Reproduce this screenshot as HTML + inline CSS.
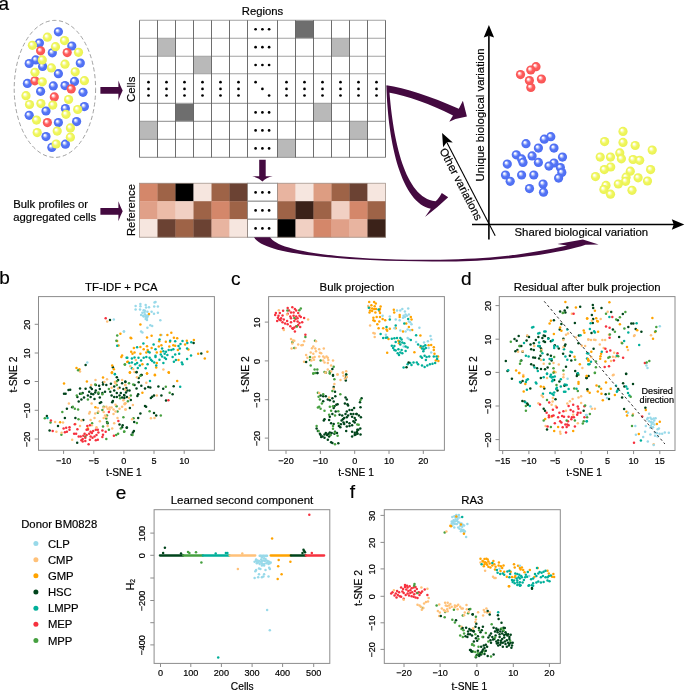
<!DOCTYPE html><html><head><meta charset="utf-8"><style>html,body{margin:0;padding:0;background:#fff;overflow:hidden;}svg{display:block;}</style></head><body><svg width="685" height="690" viewBox="0 0 685 690" style="will-change:transform" font-family='"Liberation Sans", sans-serif' fill="#111"><defs><radialGradient id="gb" cx="0.5" cy="0.5" r="0.5" fx="0.34" fy="0.32"><stop offset="0" stop-color="#ffffff"/><stop offset="0.12" stop-color="#ffffff"/><stop offset="0.55" stop-color="#5676f6"/><stop offset="1" stop-color="#4b6cf2"/></radialGradient><radialGradient id="gy" cx="0.5" cy="0.5" r="0.5" fx="0.34" fy="0.32"><stop offset="0" stop-color="#ffffff"/><stop offset="0.12" stop-color="#ffffff"/><stop offset="0.55" stop-color="#f1f760"/><stop offset="1" stop-color="#e9f152"/></radialGradient><radialGradient id="gr" cx="0.5" cy="0.5" r="0.5" fx="0.34" fy="0.32"><stop offset="0" stop-color="#ffffff"/><stop offset="0.12" stop-color="#ffffff"/><stop offset="0.55" stop-color="#ff5c5c"/><stop offset="1" stop-color="#f65353"/></radialGradient></defs><style>text{fill:#000;stroke:#000;stroke-width:0.18px;}</style><rect width="685" height="690" fill="#fff"/><text x="-1.50" y="9.70" font-size="19" text-anchor="start">a</text><text x="-0.80" y="284.30" font-size="19" text-anchor="start">b</text><text x="230.90" y="284.50" font-size="19" text-anchor="start">c</text><text x="461.00" y="284.50" font-size="19" text-anchor="start">d</text><text x="115.80" y="498.70" font-size="19" text-anchor="start">e</text><text x="349.80" y="498.20" font-size="19" text-anchor="start">f</text><ellipse cx="54.9" cy="88.9" rx="40.7" ry="68.5" fill="none" stroke="#8a8a8a" stroke-width="0.8" stroke-dasharray="4.2,2.6"/><circle cx="58.4" cy="31.8" r="4.6" fill="url(#gb)"/><circle cx="39.4" cy="43.1" r="4.6" fill="url(#gb)"/><circle cx="71.8" cy="46.0" r="4.6" fill="url(#gb)"/><circle cx="52.3" cy="52.8" r="4.6" fill="url(#gb)"/><circle cx="35.8" cy="59.9" r="4.6" fill="url(#gb)"/><circle cx="29.2" cy="63.5" r="4.6" fill="url(#gb)"/><circle cx="42.6" cy="66.4" r="4.6" fill="url(#gb)"/><circle cx="80.3" cy="63.1" r="4.6" fill="url(#gb)"/><circle cx="58.4" cy="73.7" r="4.6" fill="url(#gb)"/><circle cx="27.4" cy="83.4" r="4.6" fill="url(#gb)"/><circle cx="74.5" cy="81.4" r="4.6" fill="url(#gb)"/><circle cx="53.3" cy="85.9" r="4.6" fill="url(#gb)"/><circle cx="65.0" cy="85.6" r="4.6" fill="url(#gb)"/><circle cx="40.6" cy="91.3" r="4.6" fill="url(#gb)"/><circle cx="83.0" cy="92.3" r="4.6" fill="url(#gb)"/><circle cx="65.4" cy="108.5" r="4.6" fill="url(#gb)"/><circle cx="84.4" cy="106.6" r="4.6" fill="url(#gb)"/><circle cx="46.0" cy="111.0" r="4.6" fill="url(#gb)"/><circle cx="29.2" cy="115.3" r="4.6" fill="url(#gb)"/><circle cx="58.4" cy="122.6" r="4.6" fill="url(#gb)"/><circle cx="76.6" cy="121.6" r="4.6" fill="url(#gb)"/><circle cx="46.0" cy="136.6" r="4.6" fill="url(#gb)"/><circle cx="65.4" cy="144.2" r="4.6" fill="url(#gb)"/><circle cx="51.8" cy="147.4" r="4.6" fill="url(#gb)"/><circle cx="40.6" cy="50.8" r="4.6" fill="url(#gr)"/><circle cx="67.2" cy="52.6" r="4.6" fill="url(#gr)"/><circle cx="34.9" cy="80.8" r="4.6" fill="url(#gr)"/><circle cx="71.2" cy="88.9" r="4.6" fill="url(#gr)"/><circle cx="54.3" cy="96.9" r="4.6" fill="url(#gr)"/><circle cx="47.4" cy="122.6" r="4.6" fill="url(#gr)"/><circle cx="47.4" cy="37.2" r="4.6" fill="url(#gy)"/><circle cx="64.5" cy="40.6" r="4.6" fill="url(#gy)"/><circle cx="32.4" cy="45.3" r="4.6" fill="url(#gy)"/><circle cx="55.5" cy="46.7" r="4.6" fill="url(#gy)"/><circle cx="78.5" cy="52.3" r="4.6" fill="url(#gy)"/><circle cx="42.3" cy="59.9" r="4.6" fill="url(#gy)"/><circle cx="65.0" cy="64.2" r="4.6" fill="url(#gy)"/><circle cx="51.4" cy="67.9" r="4.6" fill="url(#gy)"/><circle cx="35.0" cy="72.3" r="4.6" fill="url(#gy)"/><circle cx="75.2" cy="71.8" r="4.6" fill="url(#gy)"/><circle cx="42.3" cy="81.8" r="4.6" fill="url(#gy)"/><circle cx="84.4" cy="80.7" r="4.6" fill="url(#gy)"/><circle cx="26.0" cy="95.7" r="4.6" fill="url(#gy)"/><circle cx="68.6" cy="99.5" r="4.6" fill="url(#gy)"/><circle cx="29.5" cy="104.5" r="4.6" fill="url(#gy)"/><circle cx="40.9" cy="103.6" r="4.6" fill="url(#gy)"/><circle cx="52.8" cy="105.1" r="4.6" fill="url(#gy)"/><circle cx="77.7" cy="109.5" r="4.6" fill="url(#gy)"/><circle cx="66.0" cy="114.3" r="4.6" fill="url(#gy)"/><circle cx="36.5" cy="120.1" r="4.6" fill="url(#gy)"/><circle cx="70.4" cy="127.9" r="4.6" fill="url(#gy)"/><circle cx="37.2" cy="132.6" r="4.6" fill="url(#gy)"/><circle cx="57.2" cy="131.1" r="4.6" fill="url(#gy)"/><circle cx="70.4" cy="137.2" r="4.6" fill="url(#gy)"/><circle cx="56.2" cy="144.0" r="4.6" fill="url(#gy)"/><path d="M100.4,87.0 L118.4,87.0 L118.4,80.4 Q120.3,85.80000000000001 122.7,90.4 Q120.3,95.0 118.4,100.4 L118.4,93.80000000000001 L100.4,93.80000000000001 Z" fill="#440a40"/><path d="M100.4,207.9 L118.4,207.9 L118.4,201.3 Q120.3,206.70000000000002 122.7,211.3 Q120.3,215.9 118.4,221.3 L118.4,214.70000000000002 L100.4,214.70000000000002 Z" fill="#440a40"/><rect x="295.5" y="20.3" width="18.0" height="17.900000000000002" fill="#6e6e6e"/><rect x="157.5" y="38.2" width="18.0" height="18.0" fill="#b9b9b9"/><rect x="331.5" y="38.2" width="18.0" height="18.0" fill="#b9b9b9"/><rect x="193.5" y="56.2" width="18.0" height="17.599999999999994" fill="#b9b9b9"/><rect x="175.5" y="103.4" width="18.0" height="18.0" fill="#6e6e6e"/><rect x="313.5" y="103.4" width="18.0" height="18.0" fill="#b9b9b9"/><rect x="139.5" y="121.4" width="18.0" height="18.0" fill="#b9b9b9"/><rect x="349.5" y="121.4" width="18.0" height="18.0" fill="#b9b9b9"/><rect x="277.5" y="139.4" width="18.0" height="18.0" fill="#b9b9b9"/><line x1="139.5" y1="20.3" x2="385.5" y2="20.3" stroke="#a2a2a2" stroke-width="1.1"/><line x1="139.5" y1="38.2" x2="385.5" y2="38.2" stroke="#a2a2a2" stroke-width="1.1"/><line x1="139.5" y1="56.2" x2="385.5" y2="56.2" stroke="#a2a2a2" stroke-width="1.1"/><line x1="139.5" y1="73.8" x2="385.5" y2="73.8" stroke="#a2a2a2" stroke-width="1.1"/><line x1="139.5" y1="103.4" x2="385.5" y2="103.4" stroke="#a2a2a2" stroke-width="1.1"/><line x1="139.5" y1="121.4" x2="385.5" y2="121.4" stroke="#a2a2a2" stroke-width="1.1"/><line x1="139.5" y1="139.4" x2="385.5" y2="139.4" stroke="#a2a2a2" stroke-width="1.1"/><line x1="139.5" y1="157.4" x2="385.5" y2="157.4" stroke="#a2a2a2" stroke-width="1.1"/><line x1="139.5" y1="20.3" x2="139.5" y2="157.4" stroke="#5e5e5e" stroke-width="0.9"/><line x1="157.5" y1="20.3" x2="157.5" y2="157.4" stroke="#5e5e5e" stroke-width="0.9"/><line x1="175.5" y1="20.3" x2="175.5" y2="157.4" stroke="#5e5e5e" stroke-width="0.9"/><line x1="193.5" y1="20.3" x2="193.5" y2="157.4" stroke="#5e5e5e" stroke-width="0.9"/><line x1="211.5" y1="20.3" x2="211.5" y2="157.4" stroke="#5e5e5e" stroke-width="0.9"/><line x1="229.5" y1="20.3" x2="229.5" y2="157.4" stroke="#5e5e5e" stroke-width="0.9"/><line x1="247.5" y1="20.3" x2="247.5" y2="157.4" stroke="#5e5e5e" stroke-width="0.9"/><line x1="277.5" y1="20.3" x2="277.5" y2="157.4" stroke="#5e5e5e" stroke-width="0.9"/><line x1="295.5" y1="20.3" x2="295.5" y2="157.4" stroke="#5e5e5e" stroke-width="0.9"/><line x1="313.5" y1="20.3" x2="313.5" y2="157.4" stroke="#5e5e5e" stroke-width="0.9"/><line x1="331.5" y1="20.3" x2="331.5" y2="157.4" stroke="#5e5e5e" stroke-width="0.9"/><line x1="349.5" y1="20.3" x2="349.5" y2="157.4" stroke="#5e5e5e" stroke-width="0.9"/><line x1="367.5" y1="20.3" x2="367.5" y2="157.4" stroke="#5e5e5e" stroke-width="0.9"/><line x1="385.5" y1="20.3" x2="385.5" y2="157.4" stroke="#5e5e5e" stroke-width="0.9"/><circle cx="255.6" cy="29.25" r="1.35" fill="#000"/><circle cx="262.4" cy="29.25" r="1.35" fill="#000"/><circle cx="269.1" cy="29.25" r="1.35" fill="#000"/><circle cx="255.6" cy="47.2" r="1.35" fill="#000"/><circle cx="262.4" cy="47.2" r="1.35" fill="#000"/><circle cx="269.1" cy="47.2" r="1.35" fill="#000"/><circle cx="255.6" cy="65.0" r="1.35" fill="#000"/><circle cx="262.4" cy="65.0" r="1.35" fill="#000"/><circle cx="269.1" cy="65.0" r="1.35" fill="#000"/><circle cx="255.6" cy="112.4" r="1.35" fill="#000"/><circle cx="262.4" cy="112.4" r="1.35" fill="#000"/><circle cx="269.1" cy="112.4" r="1.35" fill="#000"/><circle cx="255.6" cy="130.4" r="1.35" fill="#000"/><circle cx="262.4" cy="130.4" r="1.35" fill="#000"/><circle cx="269.1" cy="130.4" r="1.35" fill="#000"/><circle cx="255.6" cy="148.4" r="1.35" fill="#000"/><circle cx="262.4" cy="148.4" r="1.35" fill="#000"/><circle cx="269.1" cy="148.4" r="1.35" fill="#000"/><circle cx="148.5" cy="82.2" r="1.35" fill="#000"/><circle cx="148.5" cy="88.9" r="1.35" fill="#000"/><circle cx="148.5" cy="95.5" r="1.35" fill="#000"/><circle cx="166.5" cy="82.2" r="1.35" fill="#000"/><circle cx="166.5" cy="88.9" r="1.35" fill="#000"/><circle cx="166.5" cy="95.5" r="1.35" fill="#000"/><circle cx="184.5" cy="82.2" r="1.35" fill="#000"/><circle cx="184.5" cy="88.9" r="1.35" fill="#000"/><circle cx="184.5" cy="95.5" r="1.35" fill="#000"/><circle cx="202.5" cy="82.2" r="1.35" fill="#000"/><circle cx="202.5" cy="88.9" r="1.35" fill="#000"/><circle cx="202.5" cy="95.5" r="1.35" fill="#000"/><circle cx="220.5" cy="82.2" r="1.35" fill="#000"/><circle cx="220.5" cy="88.9" r="1.35" fill="#000"/><circle cx="220.5" cy="95.5" r="1.35" fill="#000"/><circle cx="238.5" cy="82.2" r="1.35" fill="#000"/><circle cx="238.5" cy="88.9" r="1.35" fill="#000"/><circle cx="238.5" cy="95.5" r="1.35" fill="#000"/><circle cx="286.5" cy="82.2" r="1.35" fill="#000"/><circle cx="286.5" cy="88.9" r="1.35" fill="#000"/><circle cx="286.5" cy="95.5" r="1.35" fill="#000"/><circle cx="304.5" cy="82.2" r="1.35" fill="#000"/><circle cx="304.5" cy="88.9" r="1.35" fill="#000"/><circle cx="304.5" cy="95.5" r="1.35" fill="#000"/><circle cx="322.5" cy="82.2" r="1.35" fill="#000"/><circle cx="322.5" cy="88.9" r="1.35" fill="#000"/><circle cx="322.5" cy="95.5" r="1.35" fill="#000"/><circle cx="340.5" cy="82.2" r="1.35" fill="#000"/><circle cx="340.5" cy="88.9" r="1.35" fill="#000"/><circle cx="340.5" cy="95.5" r="1.35" fill="#000"/><circle cx="358.5" cy="82.2" r="1.35" fill="#000"/><circle cx="358.5" cy="88.9" r="1.35" fill="#000"/><circle cx="358.5" cy="95.5" r="1.35" fill="#000"/><circle cx="376.5" cy="82.2" r="1.35" fill="#000"/><circle cx="376.5" cy="88.9" r="1.35" fill="#000"/><circle cx="376.5" cy="95.5" r="1.35" fill="#000"/><circle cx="255.6" cy="82.2" r="1.35" fill="#000"/><circle cx="262.4" cy="88.9" r="1.35" fill="#000"/><circle cx="269.1" cy="95.5" r="1.35" fill="#000"/><rect x="139.5" y="183.2" width="18.3" height="18.3" fill="#d4876a"/><rect x="157.5" y="183.2" width="18.3" height="18.3" fill="#9e6347"/><rect x="175.5" y="183.2" width="18.3" height="18.3" fill="#000000"/><rect x="193.5" y="183.2" width="18.3" height="18.3" fill="#f6e6df"/><rect x="211.5" y="183.2" width="18.3" height="18.3" fill="#9e6347"/><rect x="229.5" y="183.2" width="18.3" height="18.3" fill="#6b4233"/><rect x="247.5" y="183.2" width="30.0" height="18" fill="#fff" stroke="#777" stroke-width="0.8"/><circle cx="255.6" cy="192.39999999999998" r="1.35" fill="#000"/><circle cx="262.4" cy="192.39999999999998" r="1.35" fill="#000"/><circle cx="269.1" cy="192.39999999999998" r="1.35" fill="#000"/><rect x="277.5" y="183.2" width="18.3" height="18.3" fill="#e8b4a0"/><rect x="295.5" y="183.2" width="18.3" height="18.3" fill="#f6e6df"/><rect x="313.5" y="183.2" width="18.3" height="18.3" fill="#dd9d82"/><rect x="331.5" y="183.2" width="18.3" height="18.3" fill="#9e6347"/><rect x="349.5" y="183.2" width="18.3" height="18.3" fill="#6b4233"/><rect x="367.5" y="183.2" width="18.3" height="18.3" fill="#f6e6df"/><rect x="139.5" y="201.2" width="18.3" height="18.3" fill="#e0a088"/><rect x="157.5" y="201.2" width="18.3" height="18.3" fill="#ecbca8"/><rect x="175.5" y="201.2" width="18.3" height="18.3" fill="#f1d0c3"/><rect x="193.5" y="201.2" width="18.3" height="18.3" fill="#9e6347"/><rect x="211.5" y="201.2" width="18.3" height="18.3" fill="#d4876a"/><rect x="229.5" y="201.2" width="18.3" height="18.3" fill="#9e6347"/><rect x="247.5" y="201.2" width="30.0" height="18" fill="#fff" stroke="#777" stroke-width="0.8"/><circle cx="255.6" cy="210.39999999999998" r="1.35" fill="#000"/><circle cx="262.4" cy="210.39999999999998" r="1.35" fill="#000"/><circle cx="269.1" cy="210.39999999999998" r="1.35" fill="#000"/><rect x="277.5" y="201.2" width="18.3" height="18.3" fill="#9e6347"/><rect x="295.5" y="201.2" width="18.3" height="18.3" fill="#3b2219"/><rect x="313.5" y="201.2" width="18.3" height="18.3" fill="#9e6347"/><rect x="331.5" y="201.2" width="18.3" height="18.3" fill="#f1d0c3"/><rect x="349.5" y="201.2" width="18.3" height="18.3" fill="#d4876a"/><rect x="367.5" y="201.2" width="18.3" height="18.3" fill="#9e6347"/><rect x="139.5" y="219.2" width="18.3" height="18.3" fill="#f6e6df"/><rect x="157.5" y="219.2" width="18.3" height="18.3" fill="#6b4233"/><rect x="175.5" y="219.2" width="18.3" height="18.3" fill="#9e6347"/><rect x="193.5" y="219.2" width="18.3" height="18.3" fill="#6b4233"/><rect x="211.5" y="219.2" width="18.3" height="18.3" fill="#e8b4a0"/><rect x="229.5" y="219.2" width="18.3" height="18.3" fill="#f6e6df"/><rect x="247.5" y="219.2" width="30.0" height="18" fill="#fff" stroke="#777" stroke-width="0.8"/><circle cx="255.6" cy="228.39999999999998" r="1.35" fill="#000"/><circle cx="262.4" cy="228.39999999999998" r="1.35" fill="#000"/><circle cx="269.1" cy="228.39999999999998" r="1.35" fill="#000"/><rect x="277.5" y="219.2" width="18.3" height="18.3" fill="#000000"/><rect x="295.5" y="219.2" width="18.3" height="18.3" fill="#f1d0c3"/><rect x="313.5" y="219.2" width="18.3" height="18.3" fill="#d4876a"/><rect x="331.5" y="219.2" width="18.3" height="18.3" fill="#e0a088"/><rect x="349.5" y="219.2" width="18.3" height="18.3" fill="#e8b4a0"/><rect x="367.5" y="219.2" width="18.3" height="18.3" fill="#3b2219"/><rect x="139.5" y="183.2" width="108.0" height="54.0" fill="none" stroke="#9a8a82" stroke-width="0.7"/><rect x="277.5" y="183.2" width="108.0" height="54.0" fill="none" stroke="#9a8a82" stroke-width="0.7"/><path d="M259.2,159.8 L265.7,159.8 L265.7,176.3 L272.7,176.3 Q266,177.5 262.45,181.6 Q259,177.5 252.2,176.3 L259.2,176.3 Z" fill="#440a40"/><text x="262.50" y="14.90" font-size="11.3" text-anchor="middle">Regions</text><text x="134.60" y="89.30" font-size="11.4" text-anchor="middle" transform="rotate(-90 134.60 89.30)">Cells</text><text x="134.80" y="210.00" font-size="11.3" text-anchor="middle" transform="rotate(-90 134.80 210.00)">Reference</text><text x="13.30" y="208.40" font-size="11.3" text-anchor="start">Bulk profiles or</text><text x="13.30" y="221.10" font-size="11.3" text-anchor="start">aggregated cells</text><path d="M386.4,85.2 C405,88 430,96 458.8,108.7 L462.9,100.7 L466.9,116.4 Q457,117.8 449.3,121.8 L453,115.5 C430,104 408,96 388.6,92.6 Z" fill="#440a40"/><path d="M386.4,85.6 L389.3,90 C393,140 405,198 435.5,201.3 Q438.5,199 441.8,193 L448.2,197.2 Q437.5,207.5 425,216.9 L430.8,208.8 C402,203 388,145 386.4,85.6 Z" fill="#440a40"/><path d="M254,237.2 L270,237.2 C276,246 300,254 370,258.6 C420,261 460,259.5 490,257.4 C520,255 545,250.5 567,245.5 L557.4,244.1 L582.9,239.4 L598.6,244.6 L585.5,244.8 C570,250 540,256.5 490,259.9 C460,261.8 420,262.3 370,260.1 C300,256.5 262,250 254,237.2 Z" fill="#440a40"/><rect x="505" y="226" width="150" height="13" fill="#fff"/><line x1="488.9" y1="36" x2="488.9" y2="239.5" stroke="#000" stroke-width="1.6"/><path d="M488.9,25.1 L494.1,37.6 L488.9,35.8 L483.7,37.6 Z" fill="#000"/><line x1="472" y1="224.5" x2="674" y2="224.5" stroke="#000" stroke-width="1.6"/><path d="M684.3,224.5 L671.8,229.8 L673.7,224.5 L671.8,219.2 Z" fill="#000"/><line x1="446" y1="140.8" x2="495.2" y2="235.8" stroke="#000" stroke-width="1.1"/><path d="M442.1,132.9 L452.8,142.4 L446.9,142 L443.1,147.2 Z" fill="#000"/><text x="484.30" y="114.90" font-size="11.4" text-anchor="middle" transform="rotate(-90 484.30 114.90)">Unique biological variation</text><text x="581.30" y="235.80" font-size="11.4" text-anchor="middle">Shared biological variation</text><text x="457.60" y="185.90" font-size="11.3" text-anchor="middle" transform="rotate(62.6 457.60 185.90)">Other variations</text><circle cx="536.0" cy="66.7" r="4.6" fill="url(#gr)"/><circle cx="530.8" cy="70.0" r="4.6" fill="url(#gr)"/><circle cx="520.5" cy="74.6" r="4.6" fill="url(#gr)"/><circle cx="530.8" cy="87.4" r="4.6" fill="url(#gr)"/><circle cx="529.4" cy="80.6" r="4.6" fill="url(#gr)"/><circle cx="541.4" cy="79.0" r="4.6" fill="url(#gr)"/><circle cx="550.8" cy="136.7" r="4.6" fill="url(#gb)"/><circle cx="544.3" cy="139.2" r="4.6" fill="url(#gb)"/><circle cx="526.0" cy="143.7" r="4.6" fill="url(#gb)"/><circle cx="538.4" cy="148.1" r="4.6" fill="url(#gb)"/><circle cx="554.0" cy="148.1" r="4.6" fill="url(#gb)"/><circle cx="516.3" cy="154.8" r="4.6" fill="url(#gb)"/><circle cx="532.1" cy="155.9" r="4.6" fill="url(#gb)"/><circle cx="562.5" cy="157.1" r="4.6" fill="url(#gb)"/><circle cx="521.6" cy="158.9" r="4.6" fill="url(#gb)"/><circle cx="523.0" cy="162.4" r="4.6" fill="url(#gb)"/><circle cx="538.4" cy="162.4" r="4.6" fill="url(#gb)"/><circle cx="554.0" cy="163.0" r="4.6" fill="url(#gb)"/><circle cx="549.0" cy="166.1" r="4.6" fill="url(#gb)"/><circle cx="507.3" cy="164.1" r="4.6" fill="url(#gb)"/><circle cx="560.4" cy="167.6" r="4.6" fill="url(#gb)"/><circle cx="561.8" cy="172.6" r="4.6" fill="url(#gb)"/><circle cx="558.6" cy="178.1" r="4.6" fill="url(#gb)"/><circle cx="505.5" cy="175.0" r="4.6" fill="url(#gb)"/><circle cx="521.6" cy="175.0" r="4.6" fill="url(#gb)"/><circle cx="533.8" cy="175.0" r="4.6" fill="url(#gb)"/><circle cx="510.2" cy="181.3" r="4.6" fill="url(#gb)"/><circle cx="543.1" cy="184.0" r="4.6" fill="url(#gb)"/><circle cx="529.5" cy="188.6" r="4.6" fill="url(#gb)"/><circle cx="543.5" cy="192.2" r="4.6" fill="url(#gb)"/><circle cx="623.0" cy="131.4" r="4.6" fill="url(#gy)"/><circle cx="604.6" cy="141.6" r="4.6" fill="url(#gy)"/><circle cx="623.0" cy="142.4" r="4.6" fill="url(#gy)"/><circle cx="635.2" cy="145.5" r="4.6" fill="url(#gy)"/><circle cx="652.2" cy="150.1" r="4.6" fill="url(#gy)"/><circle cx="619.8" cy="152.9" r="4.6" fill="url(#gy)"/><circle cx="600.2" cy="157.1" r="4.6" fill="url(#gy)"/><circle cx="610.5" cy="157.1" r="4.6" fill="url(#gy)"/><circle cx="621.4" cy="158.8" r="4.6" fill="url(#gy)"/><circle cx="633.1" cy="159.5" r="4.6" fill="url(#gy)"/><circle cx="639.7" cy="160.3" r="4.6" fill="url(#gy)"/><circle cx="610.7" cy="167.0" r="4.6" fill="url(#gy)"/><circle cx="604.3" cy="169.6" r="4.6" fill="url(#gy)"/><circle cx="630.3" cy="171.2" r="4.6" fill="url(#gy)"/><circle cx="650.6" cy="169.6" r="4.6" fill="url(#gy)"/><circle cx="595.5" cy="176.6" r="4.6" fill="url(#gy)"/><circle cx="626.1" cy="177.2" r="4.6" fill="url(#gy)"/><circle cx="638.1" cy="177.8" r="4.6" fill="url(#gy)"/><circle cx="625.6" cy="181.3" r="4.6" fill="url(#gy)"/><circle cx="647.5" cy="181.0" r="4.6" fill="url(#gy)"/><circle cx="618.3" cy="184.0" r="4.6" fill="url(#gy)"/><circle cx="606.0" cy="185.4" r="4.6" fill="url(#gy)"/><circle cx="603.9" cy="189.5" r="4.6" fill="url(#gy)"/><circle cx="632.0" cy="190.3" r="4.6" fill="url(#gy)"/><circle cx="610.5" cy="194.2" r="4.6" fill="url(#gy)"/><rect x="38.5" y="296.6" width="175.9" height="153.7" fill="none" stroke="#8c8c8c" stroke-width="1"/><line x1="63.6" y1="450.3" x2="63.6" y2="453.90000000000003" stroke="#8c8c8c" stroke-width="1"/><text x="63.60" y="463.70" font-size="9.1" text-anchor="middle">−10</text><line x1="93.8" y1="450.3" x2="93.8" y2="453.90000000000003" stroke="#8c8c8c" stroke-width="1"/><text x="93.80" y="463.70" font-size="9.1" text-anchor="middle">−5</text><line x1="123.9" y1="450.3" x2="123.9" y2="453.90000000000003" stroke="#8c8c8c" stroke-width="1"/><text x="123.90" y="463.70" font-size="9.1" text-anchor="middle">0</text><line x1="154" y1="450.3" x2="154" y2="453.90000000000003" stroke="#8c8c8c" stroke-width="1"/><text x="154.00" y="463.70" font-size="9.1" text-anchor="middle">5</text><line x1="184.2" y1="450.3" x2="184.2" y2="453.90000000000003" stroke="#8c8c8c" stroke-width="1"/><text x="184.20" y="463.70" font-size="9.1" text-anchor="middle">10</text><line x1="34.7" y1="324.3" x2="38.5" y2="324.3" stroke="#8c8c8c" stroke-width="1"/><text x="30.10" y="324.75" font-size="9.1" text-anchor="middle" transform="rotate(-90 30.10 324.75)">20</text><line x1="34.7" y1="353" x2="38.5" y2="353" stroke="#8c8c8c" stroke-width="1"/><text x="30.10" y="353.45" font-size="9.1" text-anchor="middle" transform="rotate(-90 30.10 353.45)">10</text><line x1="34.7" y1="381.5" x2="38.5" y2="381.5" stroke="#8c8c8c" stroke-width="1"/><text x="30.10" y="381.95" font-size="9.1" text-anchor="middle" transform="rotate(-90 30.10 381.95)">0</text><line x1="34.7" y1="410.3" x2="38.5" y2="410.3" stroke="#8c8c8c" stroke-width="1"/><text x="30.10" y="410.75" font-size="9.1" text-anchor="middle" transform="rotate(-90 30.10 410.75)">−10</text><line x1="34.7" y1="439" x2="38.5" y2="439" stroke="#8c8c8c" stroke-width="1"/><text x="30.10" y="439.45" font-size="9.1" text-anchor="middle" transform="rotate(-90 30.10 439.45)">−20</text><text x="121.30" y="290.70" font-size="11.4" text-anchor="middle">TF-IDF + PCA</text><text x="123.90" y="476.30" font-size="10.2" text-anchor="middle">t-SNE 1</text><text x="17.30" y="374.60" font-size="10.3" text-anchor="middle" transform="rotate(-90 17.30 374.60)">t-SNE 2</text><circle cx="105.7" cy="318.3" r="1.25" fill="#F6313E"/><circle cx="110.0" cy="319.9" r="1.25" fill="#00441B"/><circle cx="85.6" cy="365.0" r="1.25" fill="#00441B"/><circle cx="112.9" cy="367.2" r="1.25" fill="#00441B"/><circle cx="113.8" cy="319.4" r="1.25" fill="#98D9E9"/><circle cx="123.8" cy="331.5" r="1.25" fill="#98D9E9"/><circle cx="87.3" cy="362.4" r="1.25" fill="#98D9E9"/><circle cx="107.2" cy="321.6" r="1.25" fill="#FFC179"/><circle cx="80.0" cy="371.5" r="1.25" fill="#FFC179"/><circle cx="120.4" cy="333.7" r="1.25" fill="#FFA300"/><circle cx="117.1" cy="340.9" r="1.25" fill="#FFA300"/><circle cx="118.5" cy="345.4" r="1.25" fill="#FFA300"/><circle cx="122.1" cy="355.4" r="1.25" fill="#FFA300"/><circle cx="121.4" cy="357.1" r="1.25" fill="#FFA300"/><circle cx="127.3" cy="362.0" r="1.25" fill="#FFA300"/><circle cx="76.5" cy="368.0" r="1.25" fill="#FFA300"/><circle cx="79.4" cy="369.3" r="1.25" fill="#FFA300"/><circle cx="112.2" cy="365.4" r="1.25" fill="#FFA300"/><circle cx="113.9" cy="369.3" r="1.25" fill="#FFA300"/><circle cx="112.0" cy="372.2" r="1.25" fill="#FFA300"/><circle cx="117.2" cy="335.4" r="1.25" fill="#46A040"/><circle cx="116.4" cy="340.7" r="1.25" fill="#46A040"/><circle cx="125.0" cy="364.6" r="1.25" fill="#46A040"/><circle cx="78.1" cy="370.2" r="1.25" fill="#46A040"/><circle cx="117.2" cy="345.7" r="1.25" fill="#00AF99"/><circle cx="127.3" cy="357.8" r="1.25" fill="#00AF99"/><circle cx="114.9" cy="374.2" r="1.25" fill="#00AF99"/><circle cx="135.6" cy="305.9" r="1.25" fill="#98D9E9"/><circle cx="135.6" cy="309.4" r="1.25" fill="#98D9E9"/><circle cx="140.4" cy="303.9" r="1.25" fill="#98D9E9"/><circle cx="140.4" cy="306.2" r="1.25" fill="#98D9E9"/><circle cx="140.0" cy="309.4" r="1.25" fill="#98D9E9"/><circle cx="145.7" cy="304.9" r="1.25" fill="#98D9E9"/><circle cx="146.1" cy="307.6" r="1.25" fill="#98D9E9"/><circle cx="143.7" cy="310.2" r="1.25" fill="#98D9E9"/><circle cx="149.0" cy="307.2" r="1.25" fill="#98D9E9"/><circle cx="154.5" cy="302.6" r="1.25" fill="#98D9E9"/><circle cx="155.5" cy="301.9" r="1.25" fill="#98D9E9"/><circle cx="154.2" cy="306.5" r="1.25" fill="#98D9E9"/><circle cx="157.9" cy="306.5" r="1.25" fill="#98D9E9"/><circle cx="151.6" cy="311.8" r="1.25" fill="#98D9E9"/><circle cx="154.0" cy="313.7" r="1.25" fill="#98D9E9"/><circle cx="157.9" cy="312.8" r="1.25" fill="#98D9E9"/><circle cx="141.1" cy="315.1" r="1.25" fill="#98D9E9"/><circle cx="143.1" cy="315.7" r="1.25" fill="#98D9E9"/><circle cx="145.0" cy="314.4" r="1.25" fill="#98D9E9"/><circle cx="146.3" cy="315.7" r="1.25" fill="#98D9E9"/><circle cx="148.3" cy="315.1" r="1.25" fill="#98D9E9"/><circle cx="147.0" cy="317.7" r="1.25" fill="#98D9E9"/><circle cx="145.7" cy="319.0" r="1.25" fill="#98D9E9"/><circle cx="147.0" cy="319.9" r="1.25" fill="#98D9E9"/><circle cx="144.4" cy="312.4" r="1.25" fill="#98D9E9"/><circle cx="145.0" cy="310.7" r="1.25" fill="#98D9E9"/><circle cx="147.4" cy="311.8" r="1.25" fill="#98D9E9"/><circle cx="142.4" cy="312.8" r="1.25" fill="#98D9E9"/><circle cx="160.3" cy="320.3" r="1.25" fill="#98D9E9"/><circle cx="150.3" cy="325.2" r="1.25" fill="#98D9E9"/><circle cx="152.2" cy="326.0" r="1.25" fill="#98D9E9"/><circle cx="147.4" cy="327.8" r="1.25" fill="#98D9E9"/><circle cx="141.1" cy="331.5" r="1.25" fill="#98D9E9"/><circle cx="142.4" cy="332.5" r="1.25" fill="#98D9E9"/><circle cx="124.0" cy="331.5" r="1.25" fill="#98D9E9"/><circle cx="161.4" cy="335.0" r="1.25" fill="#98D9E9"/><circle cx="143.7" cy="316.4" r="1.25" fill="#98D9E9"/><circle cx="145.7" cy="316.8" r="1.25" fill="#98D9E9"/><circle cx="147.6" cy="316.4" r="1.25" fill="#98D9E9"/><circle cx="149.0" cy="314.1" r="1.25" fill="#FFA300"/><circle cx="140.4" cy="324.6" r="1.25" fill="#FFA300"/><circle cx="130.6" cy="337.8" r="1.25" fill="#FFA300"/><circle cx="131.2" cy="338.3" r="1.25" fill="#FFA300"/><circle cx="147.0" cy="337.4" r="1.25" fill="#FFA300"/><circle cx="151.6" cy="335.8" r="1.25" fill="#FFA300"/><circle cx="160.5" cy="335.0" r="1.25" fill="#FFA300"/><circle cx="167.4" cy="335.0" r="1.25" fill="#FFA300"/><circle cx="171.3" cy="332.8" r="1.25" fill="#FFA300"/><circle cx="173.9" cy="337.8" r="1.25" fill="#FFA300"/><circle cx="177.2" cy="338.3" r="1.25" fill="#FFA300"/><circle cx="186.8" cy="340.7" r="1.25" fill="#FFA300"/><circle cx="193.9" cy="340.0" r="1.25" fill="#FFA300"/><circle cx="185.1" cy="344.4" r="1.25" fill="#FFA300"/><circle cx="159.2" cy="341.3" r="1.25" fill="#FFA300"/><circle cx="165.8" cy="341.7" r="1.25" fill="#FFA300"/><circle cx="170.0" cy="341.7" r="1.25" fill="#FFA300"/><circle cx="173.3" cy="345.3" r="1.25" fill="#FFA300"/><circle cx="175.2" cy="345.7" r="1.25" fill="#FFA300"/><circle cx="169.3" cy="346.6" r="1.25" fill="#FFA300"/><circle cx="158.8" cy="346.6" r="1.25" fill="#FFA300"/><circle cx="161.4" cy="345.3" r="1.25" fill="#FFA300"/><circle cx="147.0" cy="346.2" r="1.25" fill="#FFA300"/><circle cx="140.4" cy="347.0" r="1.25" fill="#FFA300"/><circle cx="133.9" cy="347.9" r="1.25" fill="#FFA300"/><circle cx="143.7" cy="349.2" r="1.25" fill="#FFA300"/><circle cx="147.6" cy="349.9" r="1.25" fill="#FFA300"/><circle cx="151.6" cy="347.9" r="1.25" fill="#FFA300"/><circle cx="177.9" cy="349.9" r="1.25" fill="#FFA300"/><circle cx="188.4" cy="349.6" r="1.25" fill="#FFA300"/><circle cx="198.2" cy="353.8" r="1.25" fill="#FFA300"/><circle cx="207.4" cy="351.8" r="1.25" fill="#FFA300"/><circle cx="204.8" cy="358.4" r="1.25" fill="#FFA300"/><circle cx="140.4" cy="353.8" r="1.25" fill="#FFA300"/><circle cx="131.2" cy="351.8" r="1.25" fill="#FFA300"/><circle cx="134.5" cy="352.5" r="1.25" fill="#FFA300"/><circle cx="132.5" cy="353.8" r="1.25" fill="#FFA300"/><circle cx="146.3" cy="352.5" r="1.25" fill="#FFA300"/><circle cx="156.8" cy="352.5" r="1.25" fill="#FFA300"/><circle cx="160.8" cy="351.8" r="1.25" fill="#FFA300"/><circle cx="156.2" cy="367.6" r="1.25" fill="#FFA300"/><circle cx="156.8" cy="363.0" r="1.25" fill="#FFA300"/><circle cx="142.4" cy="364.3" r="1.25" fill="#FFA300"/><circle cx="178.5" cy="360.1" r="1.25" fill="#FFA300"/><circle cx="129.9" cy="372.2" r="1.25" fill="#FFA300"/><circle cx="147.0" cy="373.5" r="1.25" fill="#FFA300"/><circle cx="154.9" cy="374.8" r="1.25" fill="#FFA300"/><circle cx="168.7" cy="372.2" r="1.25" fill="#FFA300"/><circle cx="127.9" cy="361.7" r="1.25" fill="#FFA300"/><circle cx="159.5" cy="339.4" r="1.25" fill="#00AF99"/><circle cx="170.2" cy="340.7" r="1.25" fill="#00AF99"/><circle cx="175.2" cy="341.3" r="1.25" fill="#00AF99"/><circle cx="182.5" cy="340.9" r="1.25" fill="#00AF99"/><circle cx="187.3" cy="343.0" r="1.25" fill="#00AF99"/><circle cx="191.3" cy="342.2" r="1.25" fill="#00AF99"/><circle cx="143.4" cy="343.6" r="1.25" fill="#00AF99"/><circle cx="153.6" cy="344.6" r="1.25" fill="#00AF99"/><circle cx="137.1" cy="347.2" r="1.25" fill="#00AF99"/><circle cx="155.5" cy="349.2" r="1.25" fill="#00AF99"/><circle cx="162.1" cy="348.6" r="1.25" fill="#00AF99"/><circle cx="168.7" cy="349.9" r="1.25" fill="#00AF99"/><circle cx="171.3" cy="349.9" r="1.25" fill="#00AF99"/><circle cx="173.3" cy="349.2" r="1.25" fill="#00AF99"/><circle cx="163.4" cy="351.2" r="1.25" fill="#00AF99"/><circle cx="166.0" cy="351.8" r="1.25" fill="#00AF99"/><circle cx="178.5" cy="345.9" r="1.25" fill="#00AF99"/><circle cx="180.5" cy="344.0" r="1.25" fill="#00AF99"/><circle cx="179.8" cy="348.6" r="1.25" fill="#00AF99"/><circle cx="148.3" cy="351.8" r="1.25" fill="#00AF99"/><circle cx="149.6" cy="352.5" r="1.25" fill="#00AF99"/><circle cx="155.5" cy="355.8" r="1.25" fill="#00AF99"/><circle cx="160.8" cy="354.5" r="1.25" fill="#00AF99"/><circle cx="164.7" cy="353.8" r="1.25" fill="#00AF99"/><circle cx="167.4" cy="355.1" r="1.25" fill="#00AF99"/><circle cx="126.6" cy="357.8" r="1.25" fill="#00AF99"/><circle cx="131.9" cy="358.4" r="1.25" fill="#00AF99"/><circle cx="134.5" cy="357.5" r="1.25" fill="#00AF99"/><circle cx="138.5" cy="357.8" r="1.25" fill="#00AF99"/><circle cx="143.7" cy="357.8" r="1.25" fill="#00AF99"/><circle cx="146.3" cy="357.1" r="1.25" fill="#00AF99"/><circle cx="149.6" cy="357.8" r="1.25" fill="#00AF99"/><circle cx="150.9" cy="359.7" r="1.25" fill="#00AF99"/><circle cx="152.2" cy="361.0" r="1.25" fill="#00AF99"/><circle cx="155.5" cy="357.1" r="1.25" fill="#00AF99"/><circle cx="162.1" cy="356.4" r="1.25" fill="#00AF99"/><circle cx="164.7" cy="357.8" r="1.25" fill="#00AF99"/><circle cx="166.0" cy="359.1" r="1.25" fill="#00AF99"/><circle cx="172.6" cy="357.1" r="1.25" fill="#00AF99"/><circle cx="175.2" cy="354.5" r="1.25" fill="#00AF99"/><circle cx="179.2" cy="353.8" r="1.25" fill="#00AF99"/><circle cx="187.1" cy="348.6" r="1.25" fill="#00AF99"/><circle cx="191.0" cy="355.4" r="1.25" fill="#00AF99"/><circle cx="187.1" cy="359.1" r="1.25" fill="#00AF99"/><circle cx="173.9" cy="361.7" r="1.25" fill="#00AF99"/><circle cx="175.9" cy="360.1" r="1.25" fill="#00AF99"/><circle cx="181.8" cy="362.4" r="1.25" fill="#00AF99"/><circle cx="182.5" cy="364.3" r="1.25" fill="#00AF99"/><circle cx="163.4" cy="363.0" r="1.25" fill="#00AF99"/><circle cx="159.5" cy="359.7" r="1.25" fill="#00AF99"/><circle cx="154.2" cy="362.4" r="1.25" fill="#00AF99"/><circle cx="147.6" cy="364.3" r="1.25" fill="#00AF99"/><circle cx="141.1" cy="360.4" r="1.25" fill="#00AF99"/><circle cx="137.1" cy="363.0" r="1.25" fill="#00AF99"/><circle cx="135.2" cy="364.3" r="1.25" fill="#00AF99"/><circle cx="131.9" cy="362.4" r="1.25" fill="#00AF99"/><circle cx="129.3" cy="363.0" r="1.25" fill="#00AF99"/><circle cx="139.8" cy="365.6" r="1.25" fill="#00AF99"/><circle cx="137.8" cy="368.0" r="1.25" fill="#00AF99"/><circle cx="131.9" cy="368.3" r="1.25" fill="#00AF99"/><circle cx="145.7" cy="368.3" r="1.25" fill="#00AF99"/><circle cx="156.2" cy="365.6" r="1.25" fill="#00AF99"/><circle cx="193.6" cy="343.0" r="1.25" fill="#00441B"/><circle cx="201.3" cy="353.5" r="1.25" fill="#00441B"/><circle cx="136.5" cy="371.9" r="1.25" fill="#00441B"/><circle cx="141.1" cy="375.1" r="1.25" fill="#00441B"/><circle cx="135.8" cy="360.1" r="1.25" fill="#FFC179"/><circle cx="130.3" cy="366.3" r="1.25" fill="#FFC179"/><circle cx="133.2" cy="368.9" r="1.25" fill="#FFC179"/><circle cx="134.5" cy="371.9" r="1.25" fill="#FFC179"/><circle cx="163.4" cy="369.6" r="1.25" fill="#FFC179"/><circle cx="124.7" cy="364.6" r="1.25" fill="#46A040"/><circle cx="70.2" cy="389.7" r="1.25" fill="#00441B"/><circle cx="68.5" cy="390.1" r="1.25" fill="#00441B"/><circle cx="65.6" cy="393.7" r="1.25" fill="#00441B"/><circle cx="64.0" cy="393.7" r="1.25" fill="#00441B"/><circle cx="80.0" cy="388.4" r="1.25" fill="#00441B"/><circle cx="85.6" cy="388.8" r="1.25" fill="#00441B"/><circle cx="90.6" cy="387.5" r="1.25" fill="#00441B"/><circle cx="91.9" cy="389.1" r="1.25" fill="#00441B"/><circle cx="89.2" cy="391.7" r="1.25" fill="#00441B"/><circle cx="91.2" cy="393.7" r="1.25" fill="#00441B"/><circle cx="93.2" cy="394.3" r="1.25" fill="#00441B"/><circle cx="95.8" cy="390.4" r="1.25" fill="#00441B"/><circle cx="99.1" cy="385.8" r="1.25" fill="#00441B"/><circle cx="99.8" cy="389.1" r="1.25" fill="#00441B"/><circle cx="103.0" cy="384.5" r="1.25" fill="#00441B"/><circle cx="106.3" cy="385.1" r="1.25" fill="#00441B"/><circle cx="110.9" cy="383.8" r="1.25" fill="#00441B"/><circle cx="114.2" cy="386.5" r="1.25" fill="#00441B"/><circle cx="116.8" cy="377.3" r="1.25" fill="#00441B"/><circle cx="118.1" cy="379.9" r="1.25" fill="#00441B"/><circle cx="122.1" cy="383.2" r="1.25" fill="#00441B"/><circle cx="125.4" cy="381.9" r="1.25" fill="#00441B"/><circle cx="119.5" cy="387.8" r="1.25" fill="#00441B"/><circle cx="123.4" cy="389.1" r="1.25" fill="#00441B"/><circle cx="127.3" cy="390.4" r="1.25" fill="#00441B"/><circle cx="114.2" cy="390.4" r="1.25" fill="#00441B"/><circle cx="116.8" cy="393.0" r="1.25" fill="#00441B"/><circle cx="120.8" cy="393.0" r="1.25" fill="#00441B"/><circle cx="124.1" cy="395.0" r="1.25" fill="#00441B"/><circle cx="110.3" cy="391.7" r="1.25" fill="#00441B"/><circle cx="105.0" cy="391.7" r="1.25" fill="#00441B"/><circle cx="102.4" cy="393.0" r="1.25" fill="#00441B"/><circle cx="98.4" cy="393.7" r="1.25" fill="#00441B"/><circle cx="95.2" cy="392.4" r="1.25" fill="#00441B"/><circle cx="90.6" cy="397.0" r="1.25" fill="#00441B"/><circle cx="87.9" cy="395.6" r="1.25" fill="#00441B"/><circle cx="84.0" cy="397.6" r="1.25" fill="#00441B"/><circle cx="81.4" cy="399.6" r="1.25" fill="#00441B"/><circle cx="78.7" cy="401.6" r="1.25" fill="#00441B"/><circle cx="82.7" cy="393.0" r="1.25" fill="#00441B"/><circle cx="80.0" cy="393.7" r="1.25" fill="#00441B"/><circle cx="77.4" cy="397.0" r="1.25" fill="#00441B"/><circle cx="94.5" cy="398.9" r="1.25" fill="#00441B"/><circle cx="99.8" cy="397.6" r="1.25" fill="#00441B"/><circle cx="101.1" cy="402.2" r="1.25" fill="#00441B"/><circle cx="99.8" cy="402.9" r="1.25" fill="#00441B"/><circle cx="111.6" cy="395.6" r="1.25" fill="#00441B"/><circle cx="114.2" cy="397.0" r="1.25" fill="#00441B"/><circle cx="112.9" cy="400.9" r="1.25" fill="#00441B"/><circle cx="112.2" cy="402.2" r="1.25" fill="#00441B"/><circle cx="116.8" cy="397.0" r="1.25" fill="#00441B"/><circle cx="119.5" cy="395.6" r="1.25" fill="#00441B"/><circle cx="122.1" cy="397.6" r="1.25" fill="#00441B"/><circle cx="66.9" cy="408.8" r="1.25" fill="#00441B"/><circle cx="72.2" cy="407.2" r="1.25" fill="#00441B"/><circle cx="64.9" cy="418.0" r="1.25" fill="#00441B"/><circle cx="75.4" cy="418.0" r="1.25" fill="#00441B"/><circle cx="83.3" cy="420.0" r="1.25" fill="#00441B"/><circle cx="46.9" cy="416.0" r="1.25" fill="#00441B"/><circle cx="58.0" cy="425.9" r="1.25" fill="#00441B"/><circle cx="49.6" cy="430.5" r="1.25" fill="#00441B"/><circle cx="77.2" cy="442.7" r="1.25" fill="#00441B"/><circle cx="119.5" cy="424.6" r="1.25" fill="#00441B"/><circle cx="122.7" cy="425.2" r="1.25" fill="#00441B"/><circle cx="122.1" cy="427.2" r="1.25" fill="#00441B"/><circle cx="126.7" cy="427.8" r="1.25" fill="#00441B"/><circle cx="107.6" cy="423.2" r="1.25" fill="#00441B"/><circle cx="107.0" cy="421.9" r="1.25" fill="#00441B"/><circle cx="103.0" cy="382.5" r="1.25" fill="#00441B"/><circle cx="95.8" cy="385.1" r="1.25" fill="#00441B"/><circle cx="95.2" cy="384.5" r="1.25" fill="#46A040"/><circle cx="98.4" cy="392.4" r="1.25" fill="#46A040"/><circle cx="102.4" cy="394.3" r="1.25" fill="#46A040"/><circle cx="108.9" cy="389.1" r="1.25" fill="#46A040"/><circle cx="116.8" cy="385.1" r="1.25" fill="#46A040"/><circle cx="81.4" cy="393.7" r="1.25" fill="#46A040"/><circle cx="76.8" cy="395.6" r="1.25" fill="#46A040"/><circle cx="87.9" cy="399.6" r="1.25" fill="#46A040"/><circle cx="72.8" cy="406.8" r="1.25" fill="#46A040"/><circle cx="74.8" cy="408.8" r="1.25" fill="#46A040"/><circle cx="78.1" cy="409.4" r="1.25" fill="#46A040"/><circle cx="62.3" cy="412.1" r="1.25" fill="#46A040"/><circle cx="78.5" cy="419.3" r="1.25" fill="#46A040"/><circle cx="44.8" cy="418.2" r="1.25" fill="#46A040"/><circle cx="50.5" cy="422.6" r="1.25" fill="#46A040"/><circle cx="61.4" cy="434.8" r="1.25" fill="#46A040"/><circle cx="92.1" cy="423.2" r="1.25" fill="#46A040"/><circle cx="97.8" cy="412.7" r="1.25" fill="#46A040"/><circle cx="102.4" cy="410.1" r="1.25" fill="#46A040"/><circle cx="103.7" cy="406.8" r="1.25" fill="#46A040"/><circle cx="107.0" cy="415.4" r="1.25" fill="#46A040"/><circle cx="106.3" cy="418.6" r="1.25" fill="#46A040"/><circle cx="107.4" cy="422.6" r="1.25" fill="#46A040"/><circle cx="116.6" cy="406.2" r="1.25" fill="#46A040"/><circle cx="117.5" cy="411.4" r="1.25" fill="#46A040"/><circle cx="123.4" cy="417.3" r="1.25" fill="#46A040"/><circle cx="120.8" cy="428.5" r="1.25" fill="#46A040"/><circle cx="118.1" cy="433.8" r="1.25" fill="#46A040"/><circle cx="116.2" cy="435.1" r="1.25" fill="#46A040"/><circle cx="124.1" cy="431.8" r="1.25" fill="#46A040"/><circle cx="106.3" cy="439.0" r="1.25" fill="#46A040"/><circle cx="108.9" cy="429.8" r="1.25" fill="#46A040"/><circle cx="103.0" cy="426.5" r="1.25" fill="#46A040"/><circle cx="120.1" cy="398.3" r="1.25" fill="#46A040"/><circle cx="116.8" cy="381.2" r="1.25" fill="#46A040"/><circle cx="85.3" cy="436.4" r="1.25" fill="#46A040"/><circle cx="95.5" cy="380.1" r="1.25" fill="#FFC179"/><circle cx="107.0" cy="379.2" r="1.25" fill="#FFC179"/><circle cx="104.4" cy="381.9" r="1.25" fill="#FFC179"/><circle cx="91.2" cy="384.9" r="1.25" fill="#FFC179"/><circle cx="114.9" cy="381.9" r="1.25" fill="#FFC179"/><circle cx="122.1" cy="379.9" r="1.25" fill="#FFC179"/><circle cx="125.4" cy="385.1" r="1.25" fill="#FFC179"/><circle cx="115.5" cy="383.2" r="1.25" fill="#FFC179"/><circle cx="118.1" cy="388.4" r="1.25" fill="#FFC179"/><circle cx="111.6" cy="387.8" r="1.25" fill="#FFC179"/><circle cx="68.9" cy="403.5" r="1.25" fill="#FFC179"/><circle cx="91.6" cy="403.5" r="1.25" fill="#FFC179"/><circle cx="97.8" cy="408.1" r="1.25" fill="#FFC179"/><circle cx="103.7" cy="407.5" r="1.25" fill="#FFC179"/><circle cx="106.3" cy="406.8" r="1.25" fill="#FFC179"/><circle cx="107.6" cy="408.8" r="1.25" fill="#FFC179"/><circle cx="109.6" cy="407.5" r="1.25" fill="#FFC179"/><circle cx="111.6" cy="407.5" r="1.25" fill="#FFC179"/><circle cx="109.6" cy="409.4" r="1.25" fill="#FFC179"/><circle cx="113.5" cy="409.4" r="1.25" fill="#FFC179"/><circle cx="115.5" cy="411.4" r="1.25" fill="#FFC179"/><circle cx="113.5" cy="414.0" r="1.25" fill="#FFC179"/><circle cx="115.5" cy="404.8" r="1.25" fill="#FFC179"/><circle cx="119.5" cy="408.8" r="1.25" fill="#FFC179"/><circle cx="122.1" cy="406.8" r="1.25" fill="#FFC179"/><circle cx="124.7" cy="403.5" r="1.25" fill="#FFC179"/><circle cx="123.4" cy="400.2" r="1.25" fill="#FFC179"/><circle cx="125.4" cy="409.4" r="1.25" fill="#FFC179"/><circle cx="103.7" cy="412.1" r="1.25" fill="#FFC179"/><circle cx="98.4" cy="411.4" r="1.25" fill="#FFC179"/><circle cx="89.9" cy="412.1" r="1.25" fill="#FFC179"/><circle cx="89.2" cy="413.4" r="1.25" fill="#FFC179"/><circle cx="95.2" cy="413.4" r="1.25" fill="#FFC179"/><circle cx="94.5" cy="418.0" r="1.25" fill="#FFC179"/><circle cx="99.8" cy="421.3" r="1.25" fill="#FFC179"/><circle cx="103.7" cy="418.0" r="1.25" fill="#FFC179"/><circle cx="106.3" cy="416.7" r="1.25" fill="#FFC179"/><circle cx="105.0" cy="415.4" r="1.25" fill="#FFC179"/><circle cx="81.4" cy="420.6" r="1.25" fill="#FFC179"/><circle cx="90.6" cy="420.0" r="1.25" fill="#FFC179"/><circle cx="55.1" cy="421.9" r="1.25" fill="#FFC179"/><circle cx="63.0" cy="422.6" r="1.25" fill="#FFC179"/><circle cx="56.4" cy="431.8" r="1.25" fill="#FFC179"/><circle cx="61.6" cy="432.7" r="1.25" fill="#FFC179"/><circle cx="72.2" cy="439.7" r="1.25" fill="#FFC179"/><circle cx="114.2" cy="423.2" r="1.25" fill="#FFC179"/><circle cx="112.2" cy="428.5" r="1.25" fill="#FFC179"/><circle cx="117.5" cy="418.0" r="1.25" fill="#FFC179"/><circle cx="107.6" cy="425.9" r="1.25" fill="#FFC179"/><circle cx="96.5" cy="427.2" r="1.25" fill="#FFC179"/><circle cx="75.4" cy="423.9" r="1.25" fill="#FFC179"/><circle cx="80.0" cy="425.9" r="1.25" fill="#FFC179"/><circle cx="91.9" cy="425.2" r="1.25" fill="#FFC179"/><circle cx="64.0" cy="383.6" r="1.25" fill="#FFA300"/><circle cx="86.9" cy="381.5" r="1.25" fill="#FFA300"/><circle cx="103.0" cy="377.5" r="1.25" fill="#FFA300"/><circle cx="111.8" cy="373.1" r="1.25" fill="#FFA300"/><circle cx="95.4" cy="407.2" r="1.25" fill="#FFA300"/><circle cx="60.1" cy="422.2" r="1.25" fill="#FFA300"/><circle cx="87.9" cy="428.5" r="1.25" fill="#FFA300"/><circle cx="114.9" cy="374.0" r="1.25" fill="#00AF99"/><circle cx="47.5" cy="418.0" r="1.25" fill="#00AF99"/><circle cx="50.9" cy="420.4" r="1.25" fill="#F6313E"/><circle cx="52.7" cy="431.1" r="1.25" fill="#F6313E"/><circle cx="63.6" cy="428.5" r="1.25" fill="#F6313E"/><circle cx="64.9" cy="432.2" r="1.25" fill="#F6313E"/><circle cx="66.9" cy="431.8" r="1.25" fill="#F6313E"/><circle cx="69.5" cy="429.8" r="1.25" fill="#F6313E"/><circle cx="69.5" cy="427.2" r="1.25" fill="#F6313E"/><circle cx="74.8" cy="424.3" r="1.25" fill="#F6313E"/><circle cx="77.4" cy="429.2" r="1.25" fill="#F6313E"/><circle cx="74.1" cy="433.8" r="1.25" fill="#F6313E"/><circle cx="76.1" cy="433.8" r="1.25" fill="#F6313E"/><circle cx="78.7" cy="436.4" r="1.25" fill="#F6313E"/><circle cx="80.7" cy="436.4" r="1.25" fill="#F6313E"/><circle cx="83.3" cy="435.7" r="1.25" fill="#F6313E"/><circle cx="84.6" cy="433.8" r="1.25" fill="#F6313E"/><circle cx="86.6" cy="429.8" r="1.25" fill="#F6313E"/><circle cx="87.3" cy="425.9" r="1.25" fill="#F6313E"/><circle cx="89.9" cy="425.2" r="1.25" fill="#F6313E"/><circle cx="87.9" cy="429.5" r="1.25" fill="#F6313E"/><circle cx="90.6" cy="431.8" r="1.25" fill="#F6313E"/><circle cx="91.9" cy="433.1" r="1.25" fill="#F6313E"/><circle cx="93.2" cy="431.1" r="1.25" fill="#F6313E"/><circle cx="95.8" cy="429.8" r="1.25" fill="#F6313E"/><circle cx="97.8" cy="429.8" r="1.25" fill="#F6313E"/><circle cx="98.4" cy="432.4" r="1.25" fill="#F6313E"/><circle cx="96.5" cy="435.1" r="1.25" fill="#F6313E"/><circle cx="94.5" cy="436.4" r="1.25" fill="#F6313E"/><circle cx="92.5" cy="437.7" r="1.25" fill="#F6313E"/><circle cx="90.6" cy="436.4" r="1.25" fill="#F6313E"/><circle cx="89.2" cy="433.8" r="1.25" fill="#F6313E"/><circle cx="86.6" cy="435.1" r="1.25" fill="#F6313E"/><circle cx="85.3" cy="437.7" r="1.25" fill="#F6313E"/><circle cx="82.7" cy="439.0" r="1.25" fill="#F6313E"/><circle cx="81.4" cy="440.3" r="1.25" fill="#F6313E"/><circle cx="89.9" cy="439.7" r="1.25" fill="#F6313E"/><circle cx="85.3" cy="441.0" r="1.25" fill="#F6313E"/><circle cx="95.8" cy="440.3" r="1.25" fill="#F6313E"/><circle cx="97.8" cy="439.7" r="1.25" fill="#F6313E"/><circle cx="102.4" cy="430.5" r="1.25" fill="#F6313E"/><circle cx="103.0" cy="434.8" r="1.25" fill="#F6313E"/><circle cx="105.7" cy="431.8" r="1.25" fill="#F6313E"/><circle cx="102.4" cy="437.0" r="1.25" fill="#F6313E"/><circle cx="108.9" cy="412.1" r="1.25" fill="#F6313E"/><circle cx="118.4" cy="420.9" r="1.25" fill="#F6313E"/><circle cx="113.9" cy="435.7" r="1.25" fill="#F6313E"/><circle cx="88.6" cy="444.3" r="1.25" fill="#F6313E"/><circle cx="82.7" cy="441.6" r="1.25" fill="#F6313E"/><circle cx="66.2" cy="427.8" r="1.25" fill="#F6313E"/><circle cx="136.5" cy="372.3" r="1.25" fill="#00441B"/><circle cx="141.7" cy="374.9" r="1.25" fill="#00441B"/><circle cx="138.7" cy="377.9" r="1.25" fill="#00441B"/><circle cx="125.3" cy="381.5" r="1.25" fill="#00441B"/><circle cx="138.7" cy="382.2" r="1.25" fill="#00441B"/><circle cx="134.5" cy="384.9" r="1.25" fill="#00441B"/><circle cx="141.3" cy="385.8" r="1.25" fill="#00441B"/><circle cx="136.5" cy="388.4" r="1.25" fill="#00441B"/><circle cx="145.0" cy="388.4" r="1.25" fill="#00441B"/><circle cx="148.3" cy="387.1" r="1.25" fill="#00441B"/><circle cx="150.3" cy="387.5" r="1.25" fill="#00441B"/><circle cx="158.4" cy="386.5" r="1.25" fill="#00441B"/><circle cx="163.2" cy="388.8" r="1.25" fill="#00441B"/><circle cx="173.7" cy="386.2" r="1.25" fill="#00441B"/><circle cx="126.4" cy="388.0" r="1.25" fill="#00441B"/><circle cx="129.5" cy="390.4" r="1.25" fill="#00441B"/><circle cx="126.0" cy="392.4" r="1.25" fill="#00441B"/><circle cx="138.2" cy="394.3" r="1.25" fill="#00441B"/><circle cx="137.4" cy="395.9" r="1.25" fill="#00441B"/><circle cx="124.3" cy="395.4" r="1.25" fill="#00441B"/><circle cx="126.9" cy="397.0" r="1.25" fill="#00441B"/><circle cx="130.8" cy="399.9" r="1.25" fill="#00441B"/><circle cx="124.3" cy="398.0" r="1.25" fill="#00441B"/><circle cx="150.9" cy="398.0" r="1.25" fill="#00441B"/><circle cx="152.2" cy="396.7" r="1.25" fill="#00441B"/><circle cx="154.0" cy="395.6" r="1.25" fill="#00441B"/><circle cx="161.4" cy="395.6" r="1.25" fill="#00441B"/><circle cx="166.0" cy="400.6" r="1.25" fill="#00441B"/><circle cx="172.6" cy="394.3" r="1.25" fill="#00441B"/><circle cx="145.0" cy="405.9" r="1.25" fill="#00441B"/><circle cx="146.1" cy="406.8" r="1.25" fill="#00441B"/><circle cx="129.9" cy="408.1" r="1.25" fill="#00441B"/><circle cx="140.4" cy="413.4" r="1.25" fill="#00441B"/><circle cx="154.0" cy="413.0" r="1.25" fill="#00441B"/><circle cx="156.2" cy="415.4" r="1.25" fill="#00441B"/><circle cx="138.2" cy="418.0" r="1.25" fill="#00441B"/><circle cx="134.2" cy="421.9" r="1.25" fill="#00441B"/><circle cx="126.9" cy="427.4" r="1.25" fill="#00441B"/><circle cx="133.9" cy="430.9" r="1.25" fill="#00441B"/><circle cx="132.9" cy="432.4" r="1.25" fill="#00441B"/><circle cx="131.6" cy="434.8" r="1.25" fill="#00441B"/><circle cx="140.4" cy="375.7" r="1.25" fill="#46A040"/><circle cx="129.0" cy="383.2" r="1.25" fill="#46A040"/><circle cx="133.2" cy="384.5" r="1.25" fill="#46A040"/><circle cx="165.8" cy="386.7" r="1.25" fill="#46A040"/><circle cx="169.7" cy="392.8" r="1.25" fill="#46A040"/><circle cx="130.8" cy="395.4" r="1.25" fill="#46A040"/><circle cx="127.9" cy="401.2" r="1.25" fill="#46A040"/><circle cx="149.6" cy="411.2" r="1.25" fill="#46A040"/><circle cx="160.8" cy="415.6" r="1.25" fill="#46A040"/><circle cx="133.5" cy="418.2" r="1.25" fill="#46A040"/><circle cx="136.9" cy="423.0" r="1.25" fill="#46A040"/><circle cx="124.3" cy="431.4" r="1.25" fill="#46A040"/><circle cx="132.5" cy="435.1" r="1.25" fill="#46A040"/><circle cx="136.9" cy="377.3" r="1.25" fill="#FFC179"/><circle cx="146.3" cy="382.8" r="1.25" fill="#FFC179"/><circle cx="125.1" cy="384.9" r="1.25" fill="#FFC179"/><circle cx="125.3" cy="389.7" r="1.25" fill="#FFC179"/><circle cx="129.0" cy="398.0" r="1.25" fill="#FFC179"/><circle cx="125.6" cy="403.3" r="1.25" fill="#FFC179"/><circle cx="124.7" cy="404.2" r="1.25" fill="#FFC179"/><circle cx="132.9" cy="405.1" r="1.25" fill="#FFC179"/><circle cx="125.6" cy="409.4" r="1.25" fill="#FFC179"/><circle cx="156.8" cy="395.6" r="1.25" fill="#FFC179"/><circle cx="150.9" cy="418.2" r="1.25" fill="#FFC179"/><circle cx="154.5" cy="418.0" r="1.25" fill="#FFC179"/><circle cx="132.1" cy="419.3" r="1.25" fill="#FFC179"/><circle cx="129.9" cy="372.7" r="1.25" fill="#FFA300"/><circle cx="147.0" cy="373.6" r="1.25" fill="#FFA300"/><circle cx="154.9" cy="375.3" r="1.25" fill="#FFA300"/><circle cx="168.9" cy="372.7" r="1.25" fill="#FFA300"/><circle cx="177.2" cy="380.9" r="1.25" fill="#FFA300"/><circle cx="142.4" cy="392.8" r="1.25" fill="#FFA300"/><circle cx="150.0" cy="380.9" r="1.25" fill="#00AF99"/><circle cx="180.2" cy="386.7" r="1.25" fill="#00AF99"/><circle cx="168.4" cy="400.2" r="1.25" fill="#F6313E"/><rect x="268.6" y="296.6" width="175.79999999999995" height="153.7" fill="none" stroke="#8c8c8c" stroke-width="1"/><line x1="286" y1="450.3" x2="286" y2="453.90000000000003" stroke="#8c8c8c" stroke-width="1"/><text x="286.00" y="463.70" font-size="9.1" text-anchor="middle">−20</text><line x1="320.4" y1="450.3" x2="320.4" y2="453.90000000000003" stroke="#8c8c8c" stroke-width="1"/><text x="320.40" y="463.70" font-size="9.1" text-anchor="middle">−10</text><line x1="354.7" y1="450.3" x2="354.7" y2="453.90000000000003" stroke="#8c8c8c" stroke-width="1"/><text x="354.70" y="463.70" font-size="9.1" text-anchor="middle">0</text><line x1="389" y1="450.3" x2="389" y2="453.90000000000003" stroke="#8c8c8c" stroke-width="1"/><text x="389.00" y="463.70" font-size="9.1" text-anchor="middle">10</text><line x1="423.3" y1="450.3" x2="423.3" y2="453.90000000000003" stroke="#8c8c8c" stroke-width="1"/><text x="423.30" y="463.70" font-size="9.1" text-anchor="middle">20</text><line x1="264.8" y1="322.1" x2="268.6" y2="322.1" stroke="#8c8c8c" stroke-width="1"/><text x="260.20" y="322.55" font-size="9.1" text-anchor="middle" transform="rotate(-90 260.20 322.55)">10</text><line x1="264.8" y1="360.9" x2="268.6" y2="360.9" stroke="#8c8c8c" stroke-width="1"/><text x="260.20" y="361.35" font-size="9.1" text-anchor="middle" transform="rotate(-90 260.20 361.35)">0</text><line x1="264.8" y1="399.7" x2="268.6" y2="399.7" stroke="#8c8c8c" stroke-width="1"/><text x="260.20" y="400.15" font-size="9.1" text-anchor="middle" transform="rotate(-90 260.20 400.15)">−10</text><line x1="264.8" y1="438.1" x2="268.6" y2="438.1" stroke="#8c8c8c" stroke-width="1"/><text x="260.20" y="438.55" font-size="9.1" text-anchor="middle" transform="rotate(-90 260.20 438.55)">−20</text><text x="356.90" y="290.70" font-size="11.4" text-anchor="middle">Bulk projection</text><text x="356.00" y="476.30" font-size="10.2" text-anchor="middle">t-SNE 1</text><text x="248.90" y="374.30" font-size="10.3" text-anchor="middle" transform="rotate(-90 248.90 374.30)">t-SNE 2</text><circle cx="287.7" cy="308.1" r="1.25" fill="#F6313E"/><circle cx="292.3" cy="307.2" r="1.25" fill="#F6313E"/><circle cx="294.9" cy="309.1" r="1.25" fill="#F6313E"/><circle cx="289.0" cy="310.5" r="1.25" fill="#F6313E"/><circle cx="291.0" cy="312.4" r="1.25" fill="#F6313E"/><circle cx="293.6" cy="312.4" r="1.25" fill="#F6313E"/><circle cx="296.2" cy="310.5" r="1.25" fill="#F6313E"/><circle cx="298.2" cy="313.1" r="1.25" fill="#F6313E"/><circle cx="283.1" cy="310.7" r="1.25" fill="#F6313E"/><circle cx="279.8" cy="313.1" r="1.25" fill="#F6313E"/><circle cx="275.9" cy="313.1" r="1.25" fill="#F6313E"/><circle cx="275.2" cy="315.1" r="1.25" fill="#F6313E"/><circle cx="282.5" cy="315.4" r="1.25" fill="#F6313E"/><circle cx="287.7" cy="313.7" r="1.25" fill="#F6313E"/><circle cx="290.3" cy="316.4" r="1.25" fill="#F6313E"/><circle cx="293.6" cy="315.7" r="1.25" fill="#F6313E"/><circle cx="296.2" cy="316.4" r="1.25" fill="#F6313E"/><circle cx="299.5" cy="315.7" r="1.25" fill="#F6313E"/><circle cx="300.8" cy="317.0" r="1.25" fill="#F6313E"/><circle cx="297.6" cy="318.3" r="1.25" fill="#F6313E"/><circle cx="295.6" cy="319.0" r="1.25" fill="#F6313E"/><circle cx="291.0" cy="318.3" r="1.25" fill="#F6313E"/><circle cx="287.1" cy="321.0" r="1.25" fill="#F6313E"/><circle cx="283.8" cy="319.6" r="1.25" fill="#F6313E"/><circle cx="281.1" cy="318.3" r="1.25" fill="#F6313E"/><circle cx="277.9" cy="317.7" r="1.25" fill="#F6313E"/><circle cx="279.2" cy="319.4" r="1.25" fill="#F6313E"/><circle cx="280.5" cy="320.3" r="1.25" fill="#F6313E"/><circle cx="277.2" cy="321.0" r="1.25" fill="#F6313E"/><circle cx="282.5" cy="322.3" r="1.25" fill="#F6313E"/><circle cx="287.7" cy="324.2" r="1.25" fill="#F6313E"/><circle cx="290.3" cy="326.2" r="1.25" fill="#F6313E"/><circle cx="292.3" cy="328.2" r="1.25" fill="#F6313E"/><circle cx="294.3" cy="327.5" r="1.25" fill="#F6313E"/><circle cx="296.2" cy="326.2" r="1.25" fill="#F6313E"/><circle cx="298.2" cy="324.9" r="1.25" fill="#F6313E"/><circle cx="300.2" cy="326.9" r="1.25" fill="#F6313E"/><circle cx="299.5" cy="322.9" r="1.25" fill="#F6313E"/><circle cx="302.2" cy="322.3" r="1.25" fill="#F6313E"/><circle cx="297.6" cy="321.6" r="1.25" fill="#F6313E"/><circle cx="294.3" cy="321.0" r="1.25" fill="#F6313E"/><circle cx="291.0" cy="322.3" r="1.25" fill="#F6313E"/><circle cx="304.1" cy="318.1" r="1.25" fill="#F6313E"/><circle cx="283.1" cy="328.2" r="1.25" fill="#F6313E"/><circle cx="294.9" cy="331.5" r="1.25" fill="#F6313E"/><circle cx="305.4" cy="334.8" r="1.25" fill="#F6313E"/><circle cx="293.0" cy="328.8" r="1.25" fill="#F6313E"/><circle cx="285.1" cy="323.6" r="1.25" fill="#F6313E"/><circle cx="278.5" cy="315.7" r="1.25" fill="#F6313E"/><circle cx="287.4" cy="310.5" r="1.25" fill="#46A040"/><circle cx="299.3" cy="310.2" r="1.25" fill="#46A040"/><circle cx="300.8" cy="308.5" r="1.25" fill="#46A040"/><circle cx="294.3" cy="318.1" r="1.25" fill="#46A040"/><circle cx="296.9" cy="326.5" r="1.25" fill="#46A040"/><circle cx="305.4" cy="337.0" r="1.25" fill="#46A040"/><circle cx="292.3" cy="342.2" r="1.25" fill="#46A040"/><circle cx="294.3" cy="347.9" r="1.25" fill="#46A040"/><circle cx="315.0" cy="340.7" r="1.25" fill="#46A040"/><circle cx="310.0" cy="357.1" r="1.25" fill="#46A040"/><circle cx="310.0" cy="360.1" r="1.25" fill="#46A040"/><circle cx="310.7" cy="365.6" r="1.25" fill="#46A040"/><circle cx="314.6" cy="369.6" r="1.25" fill="#46A040"/><circle cx="317.3" cy="369.6" r="1.25" fill="#46A040"/><circle cx="313.3" cy="373.5" r="1.25" fill="#46A040"/><circle cx="320.6" cy="360.6" r="1.25" fill="#46A040"/><circle cx="333.7" cy="366.7" r="1.25" fill="#46A040"/><circle cx="324.5" cy="371.9" r="1.25" fill="#46A040"/><circle cx="329.8" cy="371.5" r="1.25" fill="#46A040"/><circle cx="329.8" cy="373.5" r="1.25" fill="#46A040"/><circle cx="346.2" cy="374.6" r="1.25" fill="#46A040"/><circle cx="278.8" cy="310.2" r="1.25" fill="#FFC179"/><circle cx="287.1" cy="314.4" r="1.25" fill="#FFC179"/><circle cx="308.1" cy="319.4" r="1.25" fill="#FFC179"/><circle cx="283.8" cy="329.9" r="1.25" fill="#FFC179"/><circle cx="291.0" cy="339.1" r="1.25" fill="#FFC179"/><circle cx="293.0" cy="340.4" r="1.25" fill="#FFC179"/><circle cx="294.3" cy="340.7" r="1.25" fill="#FFC179"/><circle cx="292.3" cy="343.6" r="1.25" fill="#FFC179"/><circle cx="304.1" cy="341.3" r="1.25" fill="#FFC179"/><circle cx="298.2" cy="344.6" r="1.25" fill="#FFC179"/><circle cx="301.5" cy="345.3" r="1.25" fill="#FFC179"/><circle cx="302.8" cy="344.9" r="1.25" fill="#FFC179"/><circle cx="291.6" cy="348.6" r="1.25" fill="#FFC179"/><circle cx="295.6" cy="347.9" r="1.25" fill="#FFC179"/><circle cx="316.0" cy="341.3" r="1.25" fill="#FFC179"/><circle cx="313.3" cy="346.6" r="1.25" fill="#FFC179"/><circle cx="312.0" cy="348.3" r="1.25" fill="#FFC179"/><circle cx="315.3" cy="348.6" r="1.25" fill="#FFC179"/><circle cx="319.2" cy="349.2" r="1.25" fill="#FFC179"/><circle cx="323.8" cy="348.6" r="1.25" fill="#FFC179"/><circle cx="310.7" cy="352.5" r="1.25" fill="#FFC179"/><circle cx="313.3" cy="353.8" r="1.25" fill="#FFC179"/><circle cx="316.0" cy="351.2" r="1.25" fill="#FFC179"/><circle cx="319.9" cy="352.8" r="1.25" fill="#FFC179"/><circle cx="321.2" cy="353.2" r="1.25" fill="#FFC179"/><circle cx="306.1" cy="354.9" r="1.25" fill="#FFC179"/><circle cx="307.4" cy="357.8" r="1.25" fill="#FFC179"/><circle cx="312.7" cy="357.8" r="1.25" fill="#FFC179"/><circle cx="314.6" cy="357.1" r="1.25" fill="#FFC179"/><circle cx="311.4" cy="360.4" r="1.25" fill="#FFC179"/><circle cx="314.0" cy="359.7" r="1.25" fill="#FFC179"/><circle cx="319.2" cy="356.4" r="1.25" fill="#FFC179"/><circle cx="323.2" cy="356.4" r="1.25" fill="#FFC179"/><circle cx="324.5" cy="357.8" r="1.25" fill="#FFC179"/><circle cx="326.5" cy="356.4" r="1.25" fill="#FFC179"/><circle cx="327.8" cy="357.8" r="1.25" fill="#FFC179"/><circle cx="328.4" cy="360.1" r="1.25" fill="#FFC179"/><circle cx="323.2" cy="360.4" r="1.25" fill="#FFC179"/><circle cx="324.5" cy="362.4" r="1.25" fill="#FFC179"/><circle cx="327.8" cy="363.0" r="1.25" fill="#FFC179"/><circle cx="333.0" cy="360.6" r="1.25" fill="#FFC179"/><circle cx="331.1" cy="365.6" r="1.25" fill="#FFC179"/><circle cx="327.8" cy="369.6" r="1.25" fill="#FFC179"/><circle cx="331.1" cy="371.5" r="1.25" fill="#FFC179"/><circle cx="325.8" cy="372.2" r="1.25" fill="#FFC179"/><circle cx="337.6" cy="374.6" r="1.25" fill="#FFC179"/><circle cx="342.9" cy="372.5" r="1.25" fill="#FFC179"/><circle cx="346.2" cy="371.2" r="1.25" fill="#FFC179"/><circle cx="304.1" cy="361.7" r="1.25" fill="#FFC179"/><circle cx="306.1" cy="362.0" r="1.25" fill="#00441B"/><circle cx="332.4" cy="368.9" r="1.25" fill="#00441B"/><circle cx="317.3" cy="372.9" r="1.25" fill="#00441B"/><circle cx="333.0" cy="375.1" r="1.25" fill="#00441B"/><circle cx="369.2" cy="301.9" r="1.25" fill="#FFA300"/><circle cx="374.1" cy="301.9" r="1.25" fill="#FFA300"/><circle cx="375.8" cy="303.6" r="1.25" fill="#FFA300"/><circle cx="371.4" cy="305.2" r="1.25" fill="#FFA300"/><circle cx="374.7" cy="306.2" r="1.25" fill="#FFA300"/><circle cx="380.6" cy="306.5" r="1.25" fill="#FFA300"/><circle cx="369.5" cy="307.8" r="1.25" fill="#FFA300"/><circle cx="372.1" cy="308.5" r="1.25" fill="#FFA300"/><circle cx="374.1" cy="309.1" r="1.25" fill="#FFA300"/><circle cx="376.0" cy="309.1" r="1.25" fill="#FFA300"/><circle cx="370.1" cy="310.5" r="1.25" fill="#FFA300"/><circle cx="372.1" cy="311.1" r="1.25" fill="#FFA300"/><circle cx="369.5" cy="312.4" r="1.25" fill="#FFA300"/><circle cx="375.4" cy="312.4" r="1.25" fill="#FFA300"/><circle cx="379.3" cy="311.1" r="1.25" fill="#FFA300"/><circle cx="380.0" cy="313.1" r="1.25" fill="#FFA300"/><circle cx="373.4" cy="317.7" r="1.25" fill="#FFA300"/><circle cx="376.7" cy="317.0" r="1.25" fill="#FFA300"/><circle cx="380.0" cy="317.0" r="1.25" fill="#FFA300"/><circle cx="382.6" cy="319.0" r="1.25" fill="#FFA300"/><circle cx="385.2" cy="320.3" r="1.25" fill="#FFA300"/><circle cx="373.4" cy="320.3" r="1.25" fill="#FFA300"/><circle cx="374.7" cy="321.0" r="1.25" fill="#FFA300"/><circle cx="379.3" cy="321.6" r="1.25" fill="#FFA300"/><circle cx="377.3" cy="324.2" r="1.25" fill="#FFA300"/><circle cx="378.6" cy="328.2" r="1.25" fill="#FFA300"/><circle cx="383.2" cy="328.2" r="1.25" fill="#FFA300"/><circle cx="386.5" cy="329.5" r="1.25" fill="#FFA300"/><circle cx="387.2" cy="330.8" r="1.25" fill="#FFA300"/><circle cx="389.8" cy="328.8" r="1.25" fill="#FFA300"/><circle cx="393.8" cy="309.8" r="1.25" fill="#FFA300"/><circle cx="394.2" cy="312.4" r="1.25" fill="#FFA300"/><circle cx="399.7" cy="315.1" r="1.25" fill="#FFA300"/><circle cx="399.7" cy="317.0" r="1.25" fill="#FFA300"/><circle cx="410.8" cy="317.0" r="1.25" fill="#FFA300"/><circle cx="411.5" cy="319.6" r="1.25" fill="#FFA300"/><circle cx="406.2" cy="323.6" r="1.25" fill="#FFA300"/><circle cx="408.9" cy="326.9" r="1.25" fill="#FFA300"/><circle cx="412.2" cy="329.9" r="1.25" fill="#FFA300"/><circle cx="403.0" cy="331.5" r="1.25" fill="#FFA300"/><circle cx="395.7" cy="328.2" r="1.25" fill="#FFA300"/><circle cx="420.4" cy="335.4" r="1.25" fill="#FFA300"/><circle cx="388.5" cy="339.1" r="1.25" fill="#FFA300"/><circle cx="398.4" cy="340.7" r="1.25" fill="#FFA300"/><circle cx="399.0" cy="343.3" r="1.25" fill="#FFA300"/><circle cx="387.2" cy="352.8" r="1.25" fill="#FFA300"/><circle cx="414.4" cy="352.2" r="1.25" fill="#FFA300"/><circle cx="420.7" cy="347.2" r="1.25" fill="#FFA300"/><circle cx="428.6" cy="345.3" r="1.25" fill="#FFA300"/><circle cx="431.2" cy="344.9" r="1.25" fill="#FFA300"/><circle cx="433.8" cy="347.2" r="1.25" fill="#FFA300"/><circle cx="433.8" cy="349.9" r="1.25" fill="#FFA300"/><circle cx="434.5" cy="353.8" r="1.25" fill="#FFA300"/><circle cx="438.0" cy="356.4" r="1.25" fill="#FFA300"/><circle cx="435.8" cy="360.4" r="1.25" fill="#FFA300"/><circle cx="438.4" cy="361.0" r="1.25" fill="#FFA300"/><circle cx="380.0" cy="309.1" r="1.25" fill="#FFA300"/><circle cx="368.1" cy="305.9" r="1.25" fill="#FFC179"/><circle cx="370.1" cy="325.6" r="1.25" fill="#FFC179"/><circle cx="373.4" cy="333.1" r="1.25" fill="#FFC179"/><circle cx="374.7" cy="333.4" r="1.25" fill="#FFC179"/><circle cx="374.7" cy="337.0" r="1.25" fill="#FFC179"/><circle cx="382.6" cy="315.7" r="1.25" fill="#98D9E9"/><circle cx="389.8" cy="316.4" r="1.25" fill="#98D9E9"/><circle cx="397.0" cy="310.5" r="1.25" fill="#98D9E9"/><circle cx="400.3" cy="310.5" r="1.25" fill="#98D9E9"/><circle cx="402.3" cy="309.1" r="1.25" fill="#98D9E9"/><circle cx="404.9" cy="311.5" r="1.25" fill="#98D9E9"/><circle cx="408.2" cy="308.5" r="1.25" fill="#98D9E9"/><circle cx="408.9" cy="314.4" r="1.25" fill="#98D9E9"/><circle cx="405.6" cy="314.4" r="1.25" fill="#98D9E9"/><circle cx="403.6" cy="315.7" r="1.25" fill="#98D9E9"/><circle cx="404.9" cy="317.0" r="1.25" fill="#98D9E9"/><circle cx="406.9" cy="315.7" r="1.25" fill="#98D9E9"/><circle cx="403.0" cy="317.7" r="1.25" fill="#98D9E9"/><circle cx="399.7" cy="320.3" r="1.25" fill="#98D9E9"/><circle cx="395.7" cy="319.6" r="1.25" fill="#98D9E9"/><circle cx="410.2" cy="322.3" r="1.25" fill="#98D9E9"/><circle cx="411.5" cy="324.2" r="1.25" fill="#98D9E9"/><circle cx="408.9" cy="321.6" r="1.25" fill="#98D9E9"/><circle cx="394.4" cy="328.2" r="1.25" fill="#98D9E9"/><circle cx="400.3" cy="330.4" r="1.25" fill="#98D9E9"/><circle cx="405.6" cy="331.5" r="1.25" fill="#98D9E9"/><circle cx="407.6" cy="329.5" r="1.25" fill="#98D9E9"/><circle cx="410.2" cy="330.2" r="1.25" fill="#98D9E9"/><circle cx="419.4" cy="327.8" r="1.25" fill="#98D9E9"/><circle cx="385.9" cy="334.8" r="1.25" fill="#98D9E9"/><circle cx="407.6" cy="338.0" r="1.25" fill="#98D9E9"/><circle cx="408.9" cy="339.1" r="1.25" fill="#98D9E9"/><circle cx="416.1" cy="342.0" r="1.25" fill="#98D9E9"/><circle cx="424.0" cy="342.6" r="1.25" fill="#98D9E9"/><circle cx="427.9" cy="341.3" r="1.25" fill="#98D9E9"/><circle cx="430.5" cy="336.1" r="1.25" fill="#98D9E9"/><circle cx="431.2" cy="339.4" r="1.25" fill="#98D9E9"/><circle cx="424.6" cy="345.9" r="1.25" fill="#98D9E9"/><circle cx="428.6" cy="347.9" r="1.25" fill="#98D9E9"/><circle cx="431.2" cy="352.5" r="1.25" fill="#98D9E9"/><circle cx="403.6" cy="346.6" r="1.25" fill="#98D9E9"/><circle cx="368.8" cy="307.8" r="1.25" fill="#00AF99"/><circle cx="378.6" cy="309.4" r="1.25" fill="#00AF99"/><circle cx="389.8" cy="319.6" r="1.25" fill="#00AF99"/><circle cx="395.7" cy="325.6" r="1.25" fill="#00AF99"/><circle cx="404.3" cy="323.6" r="1.25" fill="#00AF99"/><circle cx="408.2" cy="319.0" r="1.25" fill="#00AF99"/><circle cx="386.5" cy="326.9" r="1.25" fill="#00AF99"/><circle cx="380.6" cy="334.1" r="1.25" fill="#00AF99"/><circle cx="383.2" cy="338.0" r="1.25" fill="#00AF99"/><circle cx="385.9" cy="337.8" r="1.25" fill="#00AF99"/><circle cx="387.2" cy="337.4" r="1.25" fill="#00AF99"/><circle cx="391.8" cy="338.7" r="1.25" fill="#00AF99"/><circle cx="394.4" cy="338.3" r="1.25" fill="#00AF99"/><circle cx="397.0" cy="338.0" r="1.25" fill="#00AF99"/><circle cx="400.3" cy="338.0" r="1.25" fill="#00AF99"/><circle cx="401.6" cy="339.4" r="1.25" fill="#00AF99"/><circle cx="395.7" cy="342.0" r="1.25" fill="#00AF99"/><circle cx="399.7" cy="341.7" r="1.25" fill="#00AF99"/><circle cx="402.3" cy="342.6" r="1.25" fill="#00AF99"/><circle cx="404.3" cy="343.3" r="1.25" fill="#00AF99"/><circle cx="400.3" cy="344.6" r="1.25" fill="#00AF99"/><circle cx="391.8" cy="345.7" r="1.25" fill="#00AF99"/><circle cx="394.4" cy="345.9" r="1.25" fill="#00AF99"/><circle cx="393.1" cy="347.9" r="1.25" fill="#00AF99"/><circle cx="394.4" cy="349.9" r="1.25" fill="#00AF99"/><circle cx="395.7" cy="350.5" r="1.25" fill="#00AF99"/><circle cx="398.4" cy="349.2" r="1.25" fill="#00AF99"/><circle cx="401.6" cy="349.9" r="1.25" fill="#00AF99"/><circle cx="405.6" cy="346.6" r="1.25" fill="#00AF99"/><circle cx="407.6" cy="347.5" r="1.25" fill="#00AF99"/><circle cx="405.6" cy="350.9" r="1.25" fill="#00AF99"/><circle cx="397.7" cy="353.2" r="1.25" fill="#00AF99"/><circle cx="400.3" cy="352.5" r="1.25" fill="#00AF99"/><circle cx="399.0" cy="355.1" r="1.25" fill="#00AF99"/><circle cx="402.3" cy="353.2" r="1.25" fill="#00AF99"/><circle cx="410.8" cy="340.0" r="1.25" fill="#00AF99"/><circle cx="416.1" cy="335.2" r="1.25" fill="#00AF99"/><circle cx="418.1" cy="344.6" r="1.25" fill="#00AF99"/><circle cx="420.7" cy="345.9" r="1.25" fill="#00AF99"/><circle cx="423.3" cy="346.6" r="1.25" fill="#00AF99"/><circle cx="425.3" cy="345.3" r="1.25" fill="#00AF99"/><circle cx="425.9" cy="347.9" r="1.25" fill="#00AF99"/><circle cx="422.0" cy="348.6" r="1.25" fill="#00AF99"/><circle cx="424.0" cy="349.2" r="1.25" fill="#00AF99"/><circle cx="423.3" cy="351.2" r="1.25" fill="#00AF99"/><circle cx="420.7" cy="356.4" r="1.25" fill="#00AF99"/><circle cx="422.0" cy="357.8" r="1.25" fill="#00AF99"/><circle cx="424.6" cy="355.8" r="1.25" fill="#00AF99"/><circle cx="426.6" cy="357.1" r="1.25" fill="#00AF99"/><circle cx="429.2" cy="356.4" r="1.25" fill="#00AF99"/><circle cx="425.9" cy="360.1" r="1.25" fill="#00AF99"/><circle cx="433.8" cy="356.4" r="1.25" fill="#00AF99"/><circle cx="436.5" cy="356.4" r="1.25" fill="#00AF99"/><circle cx="437.1" cy="359.1" r="1.25" fill="#00AF99"/><circle cx="435.1" cy="363.0" r="1.25" fill="#00AF99"/><circle cx="432.5" cy="363.7" r="1.25" fill="#00AF99"/><circle cx="429.9" cy="364.3" r="1.25" fill="#00AF99"/><circle cx="427.3" cy="365.6" r="1.25" fill="#00AF99"/><circle cx="424.6" cy="366.9" r="1.25" fill="#00AF99"/><circle cx="422.0" cy="365.6" r="1.25" fill="#00AF99"/><circle cx="418.1" cy="364.3" r="1.25" fill="#00AF99"/><circle cx="416.8" cy="362.4" r="1.25" fill="#00AF99"/><circle cx="413.5" cy="362.4" r="1.25" fill="#00AF99"/><circle cx="410.2" cy="363.0" r="1.25" fill="#00AF99"/><circle cx="411.5" cy="365.0" r="1.25" fill="#00AF99"/><circle cx="407.6" cy="364.3" r="1.25" fill="#00AF99"/><circle cx="403.6" cy="367.6" r="1.25" fill="#00AF99"/><circle cx="408.6" cy="362.4" r="1.25" fill="#00441B"/><circle cx="406.5" cy="367.2" r="1.25" fill="#00441B"/><circle cx="317.3" cy="373.1" r="1.25" fill="#00441B"/><circle cx="333.0" cy="375.7" r="1.25" fill="#00441B"/><circle cx="346.2" cy="374.4" r="1.25" fill="#00441B"/><circle cx="346.2" cy="377.3" r="1.25" fill="#00441B"/><circle cx="345.8" cy="380.5" r="1.25" fill="#00441B"/><circle cx="333.7" cy="387.1" r="1.25" fill="#00441B"/><circle cx="335.0" cy="391.7" r="1.25" fill="#00441B"/><circle cx="335.3" cy="396.3" r="1.25" fill="#00441B"/><circle cx="320.6" cy="395.6" r="1.25" fill="#00441B"/><circle cx="323.2" cy="396.3" r="1.25" fill="#00441B"/><circle cx="325.8" cy="396.3" r="1.25" fill="#00441B"/><circle cx="327.8" cy="399.6" r="1.25" fill="#00441B"/><circle cx="329.8" cy="400.2" r="1.25" fill="#00441B"/><circle cx="332.4" cy="398.3" r="1.25" fill="#00441B"/><circle cx="333.7" cy="401.6" r="1.25" fill="#00441B"/><circle cx="323.2" cy="401.2" r="1.25" fill="#00441B"/><circle cx="334.4" cy="406.2" r="1.25" fill="#00441B"/><circle cx="336.3" cy="404.8" r="1.25" fill="#00441B"/><circle cx="337.6" cy="404.2" r="1.25" fill="#00441B"/><circle cx="333.7" cy="408.1" r="1.25" fill="#00441B"/><circle cx="335.7" cy="411.4" r="1.25" fill="#00441B"/><circle cx="339.6" cy="414.7" r="1.25" fill="#00441B"/><circle cx="342.2" cy="415.4" r="1.25" fill="#00441B"/><circle cx="345.5" cy="414.0" r="1.25" fill="#00441B"/><circle cx="346.8" cy="411.4" r="1.25" fill="#00441B"/><circle cx="349.5" cy="410.1" r="1.25" fill="#00441B"/><circle cx="352.1" cy="410.1" r="1.25" fill="#00441B"/><circle cx="354.1" cy="408.1" r="1.25" fill="#00441B"/><circle cx="353.4" cy="414.0" r="1.25" fill="#00441B"/><circle cx="350.8" cy="414.0" r="1.25" fill="#00441B"/><circle cx="348.1" cy="415.4" r="1.25" fill="#00441B"/><circle cx="352.1" cy="416.7" r="1.25" fill="#00441B"/><circle cx="354.7" cy="418.0" r="1.25" fill="#00441B"/><circle cx="346.8" cy="417.3" r="1.25" fill="#00441B"/><circle cx="344.2" cy="418.0" r="1.25" fill="#00441B"/><circle cx="342.9" cy="419.3" r="1.25" fill="#00441B"/><circle cx="341.6" cy="420.6" r="1.25" fill="#00441B"/><circle cx="343.5" cy="422.6" r="1.25" fill="#00441B"/><circle cx="346.8" cy="421.9" r="1.25" fill="#00441B"/><circle cx="349.5" cy="423.2" r="1.25" fill="#00441B"/><circle cx="353.4" cy="421.3" r="1.25" fill="#00441B"/><circle cx="354.7" cy="422.6" r="1.25" fill="#00441B"/><circle cx="352.1" cy="425.2" r="1.25" fill="#00441B"/><circle cx="349.5" cy="425.9" r="1.25" fill="#00441B"/><circle cx="346.8" cy="426.5" r="1.25" fill="#00441B"/><circle cx="344.2" cy="423.9" r="1.25" fill="#00441B"/><circle cx="340.9" cy="424.3" r="1.25" fill="#00441B"/><circle cx="338.9" cy="425.9" r="1.25" fill="#00441B"/><circle cx="340.3" cy="427.2" r="1.25" fill="#00441B"/><circle cx="331.1" cy="423.2" r="1.25" fill="#00441B"/><circle cx="333.7" cy="423.9" r="1.25" fill="#00441B"/><circle cx="329.1" cy="420.0" r="1.25" fill="#00441B"/><circle cx="324.5" cy="419.3" r="1.25" fill="#00441B"/><circle cx="323.8" cy="420.6" r="1.25" fill="#00441B"/><circle cx="329.8" cy="416.7" r="1.25" fill="#00441B"/><circle cx="332.4" cy="414.0" r="1.25" fill="#00441B"/><circle cx="345.5" cy="397.6" r="1.25" fill="#00441B"/><circle cx="346.8" cy="399.6" r="1.25" fill="#00441B"/><circle cx="347.5" cy="404.2" r="1.25" fill="#00441B"/><circle cx="348.1" cy="405.5" r="1.25" fill="#00441B"/><circle cx="344.9" cy="403.5" r="1.25" fill="#00441B"/><circle cx="346.2" cy="431.1" r="1.25" fill="#00441B"/><circle cx="352.1" cy="431.8" r="1.25" fill="#00441B"/><circle cx="354.7" cy="432.7" r="1.25" fill="#00441B"/><circle cx="356.7" cy="432.4" r="1.25" fill="#00441B"/><circle cx="352.1" cy="436.4" r="1.25" fill="#00441B"/><circle cx="354.7" cy="435.1" r="1.25" fill="#00441B"/><circle cx="316.6" cy="428.5" r="1.25" fill="#00441B"/><circle cx="317.9" cy="431.1" r="1.25" fill="#00441B"/><circle cx="319.9" cy="433.8" r="1.25" fill="#00441B"/><circle cx="320.6" cy="435.1" r="1.25" fill="#00441B"/><circle cx="321.2" cy="437.0" r="1.25" fill="#00441B"/><circle cx="322.5" cy="436.4" r="1.25" fill="#00441B"/><circle cx="324.5" cy="434.4" r="1.25" fill="#00441B"/><circle cx="325.8" cy="433.1" r="1.25" fill="#00441B"/><circle cx="327.1" cy="435.1" r="1.25" fill="#00441B"/><circle cx="328.4" cy="433.8" r="1.25" fill="#00441B"/><circle cx="329.8" cy="432.4" r="1.25" fill="#00441B"/><circle cx="330.4" cy="435.1" r="1.25" fill="#00441B"/><circle cx="329.1" cy="436.4" r="1.25" fill="#00441B"/><circle cx="327.8" cy="439.7" r="1.25" fill="#00441B"/><circle cx="331.7" cy="433.1" r="1.25" fill="#00441B"/><circle cx="334.4" cy="433.8" r="1.25" fill="#00441B"/><circle cx="337.0" cy="433.1" r="1.25" fill="#00441B"/><circle cx="335.0" cy="431.8" r="1.25" fill="#00441B"/><circle cx="331.1" cy="442.3" r="1.25" fill="#00441B"/><circle cx="332.4" cy="442.9" r="1.25" fill="#00441B"/><circle cx="338.3" cy="443.2" r="1.25" fill="#00441B"/><circle cx="324.5" cy="437.7" r="1.25" fill="#00441B"/><circle cx="356.7" cy="414.0" r="1.25" fill="#00441B"/><circle cx="357.3" cy="429.8" r="1.25" fill="#00441B"/><circle cx="313.3" cy="373.6" r="1.25" fill="#46A040"/><circle cx="315.3" cy="373.1" r="1.25" fill="#46A040"/><circle cx="325.8" cy="372.7" r="1.25" fill="#46A040"/><circle cx="329.8" cy="373.1" r="1.25" fill="#46A040"/><circle cx="334.4" cy="379.2" r="1.25" fill="#46A040"/><circle cx="332.4" cy="391.1" r="1.25" fill="#46A040"/><circle cx="340.3" cy="394.3" r="1.25" fill="#46A040"/><circle cx="317.9" cy="392.8" r="1.25" fill="#46A040"/><circle cx="318.6" cy="396.7" r="1.25" fill="#46A040"/><circle cx="323.2" cy="394.3" r="1.25" fill="#46A040"/><circle cx="319.9" cy="399.6" r="1.25" fill="#46A040"/><circle cx="321.9" cy="403.5" r="1.25" fill="#46A040"/><circle cx="319.2" cy="406.8" r="1.25" fill="#46A040"/><circle cx="317.9" cy="407.5" r="1.25" fill="#46A040"/><circle cx="320.6" cy="408.8" r="1.25" fill="#46A040"/><circle cx="324.5" cy="410.8" r="1.25" fill="#46A040"/><circle cx="329.8" cy="406.8" r="1.25" fill="#46A040"/><circle cx="333.0" cy="406.2" r="1.25" fill="#46A040"/><circle cx="331.1" cy="410.8" r="1.25" fill="#46A040"/><circle cx="338.3" cy="411.2" r="1.25" fill="#46A040"/><circle cx="329.1" cy="414.7" r="1.25" fill="#46A040"/><circle cx="335.0" cy="415.4" r="1.25" fill="#46A040"/><circle cx="338.3" cy="423.2" r="1.25" fill="#46A040"/><circle cx="333.0" cy="425.9" r="1.25" fill="#46A040"/><circle cx="333.0" cy="428.8" r="1.25" fill="#46A040"/><circle cx="335.0" cy="432.4" r="1.25" fill="#46A040"/><circle cx="337.6" cy="435.7" r="1.25" fill="#46A040"/><circle cx="330.4" cy="435.1" r="1.25" fill="#46A040"/><circle cx="318.6" cy="431.1" r="1.25" fill="#46A040"/><circle cx="316.6" cy="425.9" r="1.25" fill="#46A040"/><circle cx="335.0" cy="444.3" r="1.25" fill="#46A040"/><circle cx="357.3" cy="424.6" r="1.25" fill="#46A040"/><circle cx="325.5" cy="372.7" r="1.25" fill="#FFC179"/><circle cx="337.4" cy="374.6" r="1.25" fill="#FFC179"/><circle cx="342.9" cy="372.7" r="1.25" fill="#FFC179"/><circle cx="343.5" cy="375.7" r="1.25" fill="#FFC179"/><circle cx="346.8" cy="377.0" r="1.25" fill="#FFC179"/><circle cx="344.9" cy="378.6" r="1.25" fill="#FFC179"/><circle cx="340.5" cy="380.1" r="1.25" fill="#FFC179"/><circle cx="334.4" cy="384.1" r="1.25" fill="#FFC179"/><circle cx="333.7" cy="388.8" r="1.25" fill="#FFC179"/><circle cx="319.2" cy="393.0" r="1.25" fill="#FFC179"/><circle cx="329.1" cy="397.6" r="1.25" fill="#FFC179"/><circle cx="361.6" cy="398.3" r="1.25" fill="#00441B"/><circle cx="360.0" cy="402.2" r="1.25" fill="#00441B"/><circle cx="360.5" cy="407.2" r="1.25" fill="#00441B"/><circle cx="356.3" cy="414.0" r="1.25" fill="#00441B"/><circle cx="358.9" cy="415.4" r="1.25" fill="#00441B"/><circle cx="360.9" cy="417.3" r="1.25" fill="#00441B"/><circle cx="355.7" cy="420.0" r="1.25" fill="#00441B"/><circle cx="360.3" cy="428.5" r="1.25" fill="#00441B"/><circle cx="358.3" cy="429.8" r="1.25" fill="#00441B"/><circle cx="357.0" cy="431.8" r="1.25" fill="#00441B"/><circle cx="355.7" cy="434.4" r="1.25" fill="#00441B"/><circle cx="360.5" cy="434.4" r="1.25" fill="#00441B"/><circle cx="357.6" cy="433.8" r="1.25" fill="#00441B"/><circle cx="360.5" cy="399.9" r="1.25" fill="#46A040"/><circle cx="358.7" cy="424.8" r="1.25" fill="#46A040"/><rect x="499.3" y="296.6" width="175.7" height="153.89999999999998" fill="none" stroke="#8c8c8c" stroke-width="1"/><line x1="502.7" y1="450.5" x2="502.7" y2="454.1" stroke="#8c8c8c" stroke-width="1"/><text x="502.70" y="463.70" font-size="9.1" text-anchor="middle">−15</text><line x1="528.9" y1="450.5" x2="528.9" y2="454.1" stroke="#8c8c8c" stroke-width="1"/><text x="528.90" y="463.70" font-size="9.1" text-anchor="middle">−10</text><line x1="555.1" y1="450.5" x2="555.1" y2="454.1" stroke="#8c8c8c" stroke-width="1"/><text x="555.10" y="463.70" font-size="9.1" text-anchor="middle">−5</text><line x1="581.3" y1="450.5" x2="581.3" y2="454.1" stroke="#8c8c8c" stroke-width="1"/><text x="581.30" y="463.70" font-size="9.1" text-anchor="middle">0</text><line x1="607.5" y1="450.5" x2="607.5" y2="454.1" stroke="#8c8c8c" stroke-width="1"/><text x="607.50" y="463.70" font-size="9.1" text-anchor="middle">5</text><line x1="633.6" y1="450.5" x2="633.6" y2="454.1" stroke="#8c8c8c" stroke-width="1"/><text x="633.60" y="463.70" font-size="9.1" text-anchor="middle">10</text><line x1="659.8" y1="450.5" x2="659.8" y2="454.1" stroke="#8c8c8c" stroke-width="1"/><text x="659.80" y="463.70" font-size="9.1" text-anchor="middle">15</text><line x1="495.5" y1="305.6" x2="499.3" y2="305.6" stroke="#8c8c8c" stroke-width="1"/><text x="490.60" y="306.05" font-size="9.1" text-anchor="middle" transform="rotate(-90 490.60 306.05)">20</text><line x1="495.5" y1="339.2" x2="499.3" y2="339.2" stroke="#8c8c8c" stroke-width="1"/><text x="490.60" y="339.65" font-size="9.1" text-anchor="middle" transform="rotate(-90 490.60 339.65)">10</text><line x1="495.5" y1="372.4" x2="499.3" y2="372.4" stroke="#8c8c8c" stroke-width="1"/><text x="490.60" y="372.85" font-size="9.1" text-anchor="middle" transform="rotate(-90 490.60 372.85)">0</text><line x1="495.5" y1="406" x2="499.3" y2="406" stroke="#8c8c8c" stroke-width="1"/><text x="490.60" y="406.45" font-size="9.1" text-anchor="middle" transform="rotate(-90 490.60 406.45)">−10</text><line x1="495.5" y1="439.6" x2="499.3" y2="439.6" stroke="#8c8c8c" stroke-width="1"/><text x="490.60" y="440.05" font-size="9.1" text-anchor="middle" transform="rotate(-90 490.60 440.05)">−20</text><text x="587.20" y="290.70" font-size="11.4" text-anchor="middle">Residual after bulk projection</text><text x="584.00" y="476.30" font-size="10.2" text-anchor="middle">t-SNE 1</text><text x="477.20" y="374.30" font-size="10.3" text-anchor="middle" transform="rotate(-90 477.20 374.30)">t-SNE 2</text><circle cx="567.3" cy="307.6" r="1.25" fill="#00441B"/><circle cx="580.2" cy="306.8" r="1.25" fill="#00441B"/><circle cx="560.1" cy="311.5" r="1.25" fill="#00441B"/><circle cx="564.7" cy="310.5" r="1.25" fill="#00441B"/><circle cx="565.4" cy="312.4" r="1.25" fill="#00441B"/><circle cx="553.9" cy="320.3" r="1.25" fill="#00441B"/><circle cx="574.9" cy="322.9" r="1.25" fill="#00441B"/><circle cx="561.4" cy="323.9" r="1.25" fill="#00441B"/><circle cx="559.7" cy="329.5" r="1.25" fill="#00441B"/><circle cx="518.7" cy="336.1" r="1.25" fill="#00441B"/><circle cx="514.5" cy="339.1" r="1.25" fill="#00441B"/><circle cx="516.7" cy="340.7" r="1.25" fill="#00441B"/><circle cx="527.2" cy="336.1" r="1.25" fill="#00441B"/><circle cx="529.0" cy="337.0" r="1.25" fill="#00441B"/><circle cx="526.6" cy="340.4" r="1.25" fill="#00441B"/><circle cx="538.4" cy="337.0" r="1.25" fill="#00441B"/><circle cx="543.7" cy="335.4" r="1.25" fill="#00441B"/><circle cx="545.0" cy="336.1" r="1.25" fill="#00441B"/><circle cx="542.4" cy="338.0" r="1.25" fill="#00441B"/><circle cx="548.3" cy="338.3" r="1.25" fill="#00441B"/><circle cx="550.9" cy="341.3" r="1.25" fill="#00441B"/><circle cx="543.7" cy="341.3" r="1.25" fill="#00441B"/><circle cx="545.0" cy="342.0" r="1.25" fill="#00441B"/><circle cx="530.5" cy="344.6" r="1.25" fill="#00441B"/><circle cx="533.8" cy="343.3" r="1.25" fill="#00441B"/><circle cx="535.8" cy="340.0" r="1.25" fill="#00441B"/><circle cx="520.0" cy="345.9" r="1.25" fill="#00441B"/><circle cx="521.3" cy="345.9" r="1.25" fill="#00441B"/><circle cx="531.2" cy="349.2" r="1.25" fill="#00441B"/><circle cx="533.8" cy="349.9" r="1.25" fill="#00441B"/><circle cx="539.7" cy="346.6" r="1.25" fill="#00441B"/><circle cx="541.0" cy="348.6" r="1.25" fill="#00441B"/><circle cx="515.4" cy="351.2" r="1.25" fill="#00441B"/><circle cx="517.4" cy="349.9" r="1.25" fill="#00441B"/><circle cx="522.6" cy="351.8" r="1.25" fill="#00441B"/><circle cx="540.4" cy="355.8" r="1.25" fill="#00441B"/><circle cx="533.2" cy="357.5" r="1.25" fill="#00441B"/><circle cx="535.1" cy="357.8" r="1.25" fill="#00441B"/><circle cx="547.6" cy="354.5" r="1.25" fill="#00441B"/><circle cx="550.9" cy="355.8" r="1.25" fill="#00441B"/><circle cx="551.6" cy="360.4" r="1.25" fill="#00441B"/><circle cx="539.1" cy="358.4" r="1.25" fill="#00441B"/><circle cx="563.4" cy="338.7" r="1.25" fill="#00441B"/><circle cx="565.4" cy="344.6" r="1.25" fill="#00441B"/><circle cx="564.7" cy="345.9" r="1.25" fill="#00441B"/><circle cx="554.8" cy="345.3" r="1.25" fill="#00441B"/><circle cx="558.8" cy="348.6" r="1.25" fill="#00441B"/><circle cx="563.1" cy="353.8" r="1.25" fill="#00441B"/><circle cx="569.9" cy="355.8" r="1.25" fill="#00441B"/><circle cx="571.3" cy="360.4" r="1.25" fill="#00441B"/><circle cx="578.9" cy="335.4" r="1.25" fill="#00441B"/><circle cx="578.5" cy="343.3" r="1.25" fill="#00441B"/><circle cx="505.8" cy="361.0" r="1.25" fill="#00441B"/><circle cx="521.3" cy="360.4" r="1.25" fill="#00441B"/><circle cx="531.2" cy="364.3" r="1.25" fill="#00441B"/><circle cx="533.8" cy="365.6" r="1.25" fill="#00441B"/><circle cx="537.1" cy="368.3" r="1.25" fill="#00441B"/><circle cx="541.0" cy="368.9" r="1.25" fill="#00441B"/><circle cx="545.0" cy="369.3" r="1.25" fill="#00441B"/><circle cx="547.6" cy="367.6" r="1.25" fill="#00441B"/><circle cx="566.0" cy="366.7" r="1.25" fill="#00441B"/><circle cx="575.2" cy="370.9" r="1.25" fill="#00441B"/><circle cx="577.8" cy="373.5" r="1.25" fill="#00441B"/><circle cx="507.5" cy="370.9" r="1.25" fill="#00441B"/><circle cx="533.4" cy="326.9" r="1.25" fill="#00AF99"/><circle cx="532.1" cy="327.5" r="1.25" fill="#00AF99"/><circle cx="544.3" cy="331.5" r="1.25" fill="#00AF99"/><circle cx="545.6" cy="331.5" r="1.25" fill="#00AF99"/><circle cx="538.2" cy="333.4" r="1.25" fill="#00AF99"/><circle cx="539.5" cy="333.1" r="1.25" fill="#00AF99"/><circle cx="548.3" cy="338.7" r="1.25" fill="#00AF99"/><circle cx="552.2" cy="340.7" r="1.25" fill="#00AF99"/><circle cx="554.2" cy="347.9" r="1.25" fill="#00AF99"/><circle cx="552.9" cy="340.0" r="1.25" fill="#00AF99"/><circle cx="539.1" cy="342.6" r="1.25" fill="#00AF99"/><circle cx="538.2" cy="345.9" r="1.25" fill="#00AF99"/><circle cx="539.7" cy="345.9" r="1.25" fill="#00AF99"/><circle cx="524.0" cy="343.0" r="1.25" fill="#00AF99"/><circle cx="554.2" cy="345.9" r="1.25" fill="#00AF99"/><circle cx="557.5" cy="346.6" r="1.25" fill="#00AF99"/><circle cx="564.0" cy="349.2" r="1.25" fill="#00AF99"/><circle cx="542.4" cy="353.2" r="1.25" fill="#00AF99"/><circle cx="525.9" cy="355.8" r="1.25" fill="#00AF99"/><circle cx="528.6" cy="356.4" r="1.25" fill="#00AF99"/><circle cx="543.7" cy="359.7" r="1.25" fill="#00AF99"/><circle cx="549.6" cy="359.1" r="1.25" fill="#00AF99"/><circle cx="551.6" cy="359.1" r="1.25" fill="#00AF99"/><circle cx="565.4" cy="356.4" r="1.25" fill="#00AF99"/><circle cx="567.3" cy="359.7" r="1.25" fill="#00AF99"/><circle cx="570.6" cy="351.8" r="1.25" fill="#00AF99"/><circle cx="571.9" cy="352.2" r="1.25" fill="#00AF99"/><circle cx="534.5" cy="367.6" r="1.25" fill="#00AF99"/><circle cx="537.8" cy="370.9" r="1.25" fill="#00AF99"/><circle cx="580.5" cy="335.2" r="1.25" fill="#00AF99"/><circle cx="567.3" cy="329.5" r="1.25" fill="#00AF99"/><circle cx="547.0" cy="373.5" r="1.25" fill="#00AF99"/><circle cx="550.9" cy="374.8" r="1.25" fill="#00AF99"/><circle cx="588.3" cy="353.5" r="1.25" fill="#00AF99"/><circle cx="587.0" cy="358.4" r="1.25" fill="#00AF99"/><circle cx="508.2" cy="370.2" r="1.25" fill="#00AF99"/><circle cx="588.3" cy="364.3" r="1.25" fill="#00AF99"/><circle cx="565.4" cy="301.9" r="1.25" fill="#FFA300"/><circle cx="575.9" cy="307.6" r="1.25" fill="#FFA300"/><circle cx="587.0" cy="318.6" r="1.25" fill="#FFA300"/><circle cx="550.9" cy="320.7" r="1.25" fill="#FFA300"/><circle cx="549.6" cy="323.6" r="1.25" fill="#FFA300"/><circle cx="560.1" cy="327.5" r="1.25" fill="#FFA300"/><circle cx="561.4" cy="330.8" r="1.25" fill="#FFA300"/><circle cx="553.9" cy="334.1" r="1.25" fill="#FFA300"/><circle cx="583.7" cy="330.4" r="1.25" fill="#FFA300"/><circle cx="584.4" cy="332.8" r="1.25" fill="#FFA300"/><circle cx="574.5" cy="356.7" r="1.25" fill="#FFA300"/><circle cx="579.8" cy="364.3" r="1.25" fill="#FFA300"/><circle cx="516.1" cy="370.6" r="1.25" fill="#FFA300"/><circle cx="519.4" cy="372.9" r="1.25" fill="#FFA300"/><circle cx="588.3" cy="360.4" r="1.25" fill="#FFA300"/><circle cx="571.9" cy="313.7" r="1.25" fill="#FFC179"/><circle cx="527.2" cy="335.4" r="1.25" fill="#FFC179"/><circle cx="534.2" cy="345.9" r="1.25" fill="#FFC179"/><circle cx="541.7" cy="350.1" r="1.25" fill="#FFC179"/><circle cx="522.6" cy="351.2" r="1.25" fill="#FFC179"/><circle cx="518.1" cy="351.8" r="1.25" fill="#FFC179"/><circle cx="541.0" cy="360.1" r="1.25" fill="#FFC179"/><circle cx="543.7" cy="363.7" r="1.25" fill="#FFC179"/><circle cx="553.5" cy="363.0" r="1.25" fill="#FFC179"/><circle cx="558.8" cy="364.6" r="1.25" fill="#FFC179"/><circle cx="566.0" cy="334.8" r="1.25" fill="#FFC179"/><circle cx="568.0" cy="333.4" r="1.25" fill="#FFC179"/><circle cx="563.4" cy="347.2" r="1.25" fill="#FFC179"/><circle cx="563.4" cy="340.0" r="1.25" fill="#FFC179"/><circle cx="575.9" cy="337.4" r="1.25" fill="#FFC179"/><circle cx="581.8" cy="345.7" r="1.25" fill="#FFC179"/><circle cx="585.1" cy="345.9" r="1.25" fill="#FFC179"/><circle cx="582.4" cy="368.0" r="1.25" fill="#FFC179"/><circle cx="588.3" cy="339.4" r="1.25" fill="#FFC179"/><circle cx="554.2" cy="371.5" r="1.25" fill="#FFC179"/><circle cx="555.5" cy="372.2" r="1.25" fill="#FFC179"/><circle cx="523.3" cy="375.1" r="1.25" fill="#FFC179"/><circle cx="573.6" cy="313.7" r="1.25" fill="#F6313E"/><circle cx="510.8" cy="341.7" r="1.25" fill="#46A040"/><circle cx="563.4" cy="312.8" r="1.25" fill="#46A040"/><circle cx="562.7" cy="313.1" r="1.25" fill="#46A040"/><circle cx="520.0" cy="363.7" r="1.25" fill="#46A040"/><circle cx="520.7" cy="361.0" r="1.25" fill="#46A040"/><circle cx="549.6" cy="363.7" r="1.25" fill="#46A040"/><circle cx="554.2" cy="357.1" r="1.25" fill="#46A040"/><circle cx="553.5" cy="368.3" r="1.25" fill="#46A040"/><circle cx="563.4" cy="370.6" r="1.25" fill="#46A040"/><circle cx="575.2" cy="359.7" r="1.25" fill="#46A040"/><circle cx="578.5" cy="374.8" r="1.25" fill="#46A040"/><circle cx="519.4" cy="345.9" r="1.25" fill="#46A040"/><circle cx="541.0" cy="351.2" r="1.25" fill="#46A040"/><circle cx="592.8" cy="304.9" r="1.25" fill="#00441B"/><circle cx="593.2" cy="308.1" r="1.25" fill="#00441B"/><circle cx="601.5" cy="308.1" r="1.25" fill="#00441B"/><circle cx="611.2" cy="312.0" r="1.25" fill="#00441B"/><circle cx="591.9" cy="315.1" r="1.25" fill="#00441B"/><circle cx="593.2" cy="319.0" r="1.25" fill="#00441B"/><circle cx="592.8" cy="322.9" r="1.25" fill="#00441B"/><circle cx="591.5" cy="333.1" r="1.25" fill="#00441B"/><circle cx="617.8" cy="320.3" r="1.25" fill="#00441B"/><circle cx="622.8" cy="314.1" r="1.25" fill="#00441B"/><circle cx="612.9" cy="329.5" r="1.25" fill="#00441B"/><circle cx="619.1" cy="337.0" r="1.25" fill="#00441B"/><circle cx="628.3" cy="326.9" r="1.25" fill="#00441B"/><circle cx="631.3" cy="323.6" r="1.25" fill="#00441B"/><circle cx="633.3" cy="323.6" r="1.25" fill="#00441B"/><circle cx="635.7" cy="329.1" r="1.25" fill="#00441B"/><circle cx="641.4" cy="331.7" r="1.25" fill="#00441B"/><circle cx="593.6" cy="348.8" r="1.25" fill="#00441B"/><circle cx="626.1" cy="373.8" r="1.25" fill="#00441B"/><circle cx="609.4" cy="302.3" r="1.25" fill="#FFA300"/><circle cx="594.9" cy="310.7" r="1.25" fill="#FFA300"/><circle cx="587.3" cy="318.6" r="1.25" fill="#FFA300"/><circle cx="596.2" cy="318.3" r="1.25" fill="#FFA300"/><circle cx="597.2" cy="321.0" r="1.25" fill="#FFA300"/><circle cx="597.8" cy="321.6" r="1.25" fill="#FFA300"/><circle cx="619.9" cy="324.2" r="1.25" fill="#FFA300"/><circle cx="598.1" cy="331.7" r="1.25" fill="#FFA300"/><circle cx="637.2" cy="330.2" r="1.25" fill="#FFA300"/><circle cx="652.4" cy="318.1" r="1.25" fill="#FFA300"/><circle cx="655.0" cy="332.1" r="1.25" fill="#FFA300"/><circle cx="653.0" cy="338.7" r="1.25" fill="#FFA300"/><circle cx="627.0" cy="347.0" r="1.25" fill="#FFA300"/><circle cx="591.3" cy="351.8" r="1.25" fill="#FFA300"/><circle cx="601.1" cy="353.8" r="1.25" fill="#FFA300"/><circle cx="600.5" cy="356.2" r="1.25" fill="#FFA300"/><circle cx="600.2" cy="358.8" r="1.25" fill="#FFA300"/><circle cx="588.0" cy="359.1" r="1.25" fill="#FFA300"/><circle cx="588.6" cy="360.4" r="1.25" fill="#FFA300"/><circle cx="605.4" cy="361.4" r="1.25" fill="#FFA300"/><circle cx="607.7" cy="311.8" r="1.25" fill="#FFC179"/><circle cx="600.7" cy="319.0" r="1.25" fill="#FFC179"/><circle cx="591.9" cy="320.7" r="1.25" fill="#FFC179"/><circle cx="588.4" cy="339.4" r="1.25" fill="#FFC179"/><circle cx="591.0" cy="340.0" r="1.25" fill="#FFC179"/><circle cx="594.1" cy="339.8" r="1.25" fill="#FFC179"/><circle cx="595.5" cy="340.0" r="1.25" fill="#FFC179"/><circle cx="602.4" cy="340.0" r="1.25" fill="#FFC179"/><circle cx="605.1" cy="340.0" r="1.25" fill="#FFC179"/><circle cx="599.8" cy="344.4" r="1.25" fill="#FFC179"/><circle cx="609.0" cy="334.8" r="1.25" fill="#FFC179"/><circle cx="621.5" cy="342.6" r="1.25" fill="#FFC179"/><circle cx="634.0" cy="336.1" r="1.25" fill="#FFC179"/><circle cx="634.6" cy="335.2" r="1.25" fill="#FFC179"/><circle cx="651.0" cy="335.2" r="1.25" fill="#FFC179"/><circle cx="628.0" cy="350.1" r="1.25" fill="#FFC179"/><circle cx="603.7" cy="347.9" r="1.25" fill="#FFC179"/><circle cx="614.2" cy="352.8" r="1.25" fill="#FFC179"/><circle cx="612.9" cy="356.7" r="1.25" fill="#FFC179"/><circle cx="615.6" cy="357.1" r="1.25" fill="#FFC179"/><circle cx="611.0" cy="361.0" r="1.25" fill="#FFC179"/><circle cx="589.9" cy="363.7" r="1.25" fill="#FFC179"/><circle cx="591.3" cy="357.1" r="1.25" fill="#FFC179"/><circle cx="613.6" cy="374.8" r="1.25" fill="#FFC179"/><circle cx="609.4" cy="317.0" r="1.25" fill="#00AF99"/><circle cx="590.6" cy="323.3" r="1.25" fill="#00AF99"/><circle cx="589.9" cy="329.1" r="1.25" fill="#00AF99"/><circle cx="594.1" cy="331.2" r="1.25" fill="#00AF99"/><circle cx="594.9" cy="332.5" r="1.25" fill="#00AF99"/><circle cx="636.6" cy="323.3" r="1.25" fill="#00AF99"/><circle cx="628.3" cy="332.5" r="1.25" fill="#00AF99"/><circle cx="624.1" cy="340.9" r="1.25" fill="#00AF99"/><circle cx="639.2" cy="344.9" r="1.25" fill="#00AF99"/><circle cx="601.8" cy="351.8" r="1.25" fill="#00AF99"/><circle cx="616.9" cy="355.8" r="1.25" fill="#00AF99"/><circle cx="587.1" cy="353.2" r="1.25" fill="#00AF99"/><circle cx="591.0" cy="361.7" r="1.25" fill="#00AF99"/><circle cx="589.3" cy="364.3" r="1.25" fill="#00AF99"/><circle cx="612.3" cy="317.0" r="1.25" fill="#F6313E"/><circle cx="606.0" cy="326.5" r="1.25" fill="#F6313E"/><circle cx="609.6" cy="327.8" r="1.25" fill="#F6313E"/><circle cx="609.6" cy="337.8" r="1.25" fill="#F6313E"/><circle cx="605.4" cy="348.8" r="1.25" fill="#F6313E"/><circle cx="606.8" cy="351.8" r="1.25" fill="#F6313E"/><circle cx="610.3" cy="350.5" r="1.25" fill="#F6313E"/><circle cx="617.5" cy="353.2" r="1.25" fill="#F6313E"/><circle cx="623.1" cy="357.8" r="1.25" fill="#F6313E"/><circle cx="613.9" cy="360.6" r="1.25" fill="#F6313E"/><circle cx="604.7" cy="366.9" r="1.25" fill="#F6313E"/><circle cx="609.0" cy="366.3" r="1.25" fill="#F6313E"/><circle cx="644.9" cy="363.0" r="1.25" fill="#F6313E"/><circle cx="606.0" cy="313.7" r="1.25" fill="#46A040"/><circle cx="625.4" cy="312.0" r="1.25" fill="#46A040"/><circle cx="619.9" cy="317.3" r="1.25" fill="#46A040"/><circle cx="616.2" cy="319.4" r="1.25" fill="#46A040"/><circle cx="614.9" cy="331.7" r="1.25" fill="#46A040"/><circle cx="624.4" cy="328.6" r="1.25" fill="#46A040"/><circle cx="609.9" cy="334.4" r="1.25" fill="#46A040"/><circle cx="622.1" cy="343.3" r="1.25" fill="#46A040"/><circle cx="608.3" cy="357.8" r="1.25" fill="#46A040"/><circle cx="609.6" cy="357.1" r="1.25" fill="#46A040"/><circle cx="618.2" cy="356.2" r="1.25" fill="#46A040"/><circle cx="656.3" cy="326.9" r="1.25" fill="#46A040"/><circle cx="655.6" cy="331.2" r="1.25" fill="#46A040"/><circle cx="649.3" cy="361.0" r="1.25" fill="#46A040"/><circle cx="646.7" cy="362.4" r="1.25" fill="#46A040"/><circle cx="595.9" cy="361.4" r="1.25" fill="#46A040"/><circle cx="595.9" cy="367.2" r="1.25" fill="#46A040"/><circle cx="594.9" cy="372.9" r="1.25" fill="#46A040"/><circle cx="659.8" cy="326.2" r="1.25" fill="#98D9E9"/><circle cx="646.4" cy="365.6" r="1.25" fill="#98D9E9"/><circle cx="647.5" cy="368.0" r="1.25" fill="#98D9E9"/><circle cx="511.9" cy="378.8" r="1.25" fill="#00441B"/><circle cx="520.7" cy="382.5" r="1.25" fill="#00441B"/><circle cx="522.6" cy="380.9" r="1.25" fill="#00441B"/><circle cx="530.3" cy="388.4" r="1.25" fill="#00441B"/><circle cx="540.8" cy="377.9" r="1.25" fill="#00441B"/><circle cx="544.3" cy="388.4" r="1.25" fill="#00441B"/><circle cx="554.2" cy="380.1" r="1.25" fill="#00441B"/><circle cx="559.4" cy="381.5" r="1.25" fill="#00441B"/><circle cx="564.4" cy="385.8" r="1.25" fill="#00441B"/><circle cx="566.0" cy="385.1" r="1.25" fill="#00441B"/><circle cx="557.5" cy="390.4" r="1.25" fill="#00441B"/><circle cx="555.5" cy="399.3" r="1.25" fill="#00441B"/><circle cx="522.4" cy="400.9" r="1.25" fill="#00441B"/><circle cx="524.6" cy="401.6" r="1.25" fill="#00441B"/><circle cx="527.2" cy="403.5" r="1.25" fill="#00441B"/><circle cx="527.9" cy="404.8" r="1.25" fill="#00441B"/><circle cx="543.7" cy="408.8" r="1.25" fill="#00441B"/><circle cx="545.0" cy="410.8" r="1.25" fill="#00441B"/><circle cx="547.0" cy="429.5" r="1.25" fill="#00441B"/><circle cx="576.8" cy="375.9" r="1.25" fill="#00441B"/><circle cx="577.2" cy="374.0" r="1.25" fill="#00441B"/><circle cx="586.4" cy="377.9" r="1.25" fill="#00441B"/><circle cx="583.7" cy="410.8" r="1.25" fill="#00441B"/><circle cx="520.0" cy="381.9" r="1.25" fill="#00AF99"/><circle cx="525.9" cy="381.9" r="1.25" fill="#00AF99"/><circle cx="526.6" cy="379.9" r="1.25" fill="#00AF99"/><circle cx="527.9" cy="379.2" r="1.25" fill="#00AF99"/><circle cx="526.9" cy="389.7" r="1.25" fill="#00AF99"/><circle cx="535.8" cy="382.5" r="1.25" fill="#00AF99"/><circle cx="536.4" cy="383.6" r="1.25" fill="#00AF99"/><circle cx="543.7" cy="377.3" r="1.25" fill="#00AF99"/><circle cx="547.0" cy="374.0" r="1.25" fill="#00AF99"/><circle cx="550.2" cy="376.6" r="1.25" fill="#00AF99"/><circle cx="551.6" cy="377.5" r="1.25" fill="#00AF99"/><circle cx="552.9" cy="377.0" r="1.25" fill="#00AF99"/><circle cx="554.8" cy="376.6" r="1.25" fill="#00AF99"/><circle cx="552.2" cy="381.2" r="1.25" fill="#00AF99"/><circle cx="552.9" cy="379.9" r="1.25" fill="#00AF99"/><circle cx="560.8" cy="379.2" r="1.25" fill="#00AF99"/><circle cx="560.8" cy="386.5" r="1.25" fill="#00AF99"/><circle cx="564.7" cy="384.5" r="1.25" fill="#00AF99"/><circle cx="566.7" cy="385.1" r="1.25" fill="#00AF99"/><circle cx="568.6" cy="389.1" r="1.25" fill="#00AF99"/><circle cx="564.0" cy="391.7" r="1.25" fill="#00AF99"/><circle cx="565.4" cy="391.7" r="1.25" fill="#00AF99"/><circle cx="550.2" cy="393.0" r="1.25" fill="#00AF99"/><circle cx="552.2" cy="393.7" r="1.25" fill="#00AF99"/><circle cx="553.5" cy="395.0" r="1.25" fill="#00AF99"/><circle cx="554.2" cy="392.4" r="1.25" fill="#00AF99"/><circle cx="556.2" cy="389.1" r="1.25" fill="#00AF99"/><circle cx="556.8" cy="387.8" r="1.25" fill="#00AF99"/><circle cx="543.0" cy="393.7" r="1.25" fill="#00AF99"/><circle cx="529.9" cy="405.9" r="1.25" fill="#00AF99"/><circle cx="525.3" cy="402.2" r="1.25" fill="#00AF99"/><circle cx="576.5" cy="388.8" r="1.25" fill="#00AF99"/><circle cx="586.8" cy="421.3" r="1.25" fill="#00AF99"/><circle cx="577.8" cy="373.3" r="1.25" fill="#00AF99"/><circle cx="519.0" cy="373.1" r="1.25" fill="#FFA300"/><circle cx="523.3" cy="376.6" r="1.25" fill="#FFA300"/><circle cx="525.3" cy="384.1" r="1.25" fill="#FFA300"/><circle cx="523.7" cy="391.4" r="1.25" fill="#FFA300"/><circle cx="540.8" cy="386.5" r="1.25" fill="#FFA300"/><circle cx="543.7" cy="387.1" r="1.25" fill="#FFA300"/><circle cx="553.9" cy="372.0" r="1.25" fill="#FFA300"/><circle cx="578.5" cy="381.9" r="1.25" fill="#FFA300"/><circle cx="578.5" cy="383.8" r="1.25" fill="#FFA300"/><circle cx="587.7" cy="391.1" r="1.25" fill="#FFA300"/><circle cx="586.8" cy="375.9" r="1.25" fill="#FFA300"/><circle cx="545.2" cy="419.0" r="1.25" fill="#FFA300"/><circle cx="551.6" cy="416.4" r="1.25" fill="#FFA300"/><circle cx="554.2" cy="430.9" r="1.25" fill="#FFA300"/><circle cx="558.1" cy="426.9" r="1.25" fill="#FFA300"/><circle cx="573.2" cy="431.1" r="1.25" fill="#FFA300"/><circle cx="563.6" cy="374.4" r="1.25" fill="#FFC179"/><circle cx="563.4" cy="377.3" r="1.25" fill="#FFC179"/><circle cx="547.0" cy="377.9" r="1.25" fill="#FFC179"/><circle cx="541.7" cy="395.4" r="1.25" fill="#FFC179"/><circle cx="543.0" cy="397.0" r="1.25" fill="#FFC179"/><circle cx="538.4" cy="403.3" r="1.25" fill="#FFC179"/><circle cx="552.9" cy="398.0" r="1.25" fill="#FFC179"/><circle cx="552.6" cy="401.6" r="1.25" fill="#FFC179"/><circle cx="551.6" cy="404.8" r="1.25" fill="#FFC179"/><circle cx="555.8" cy="405.9" r="1.25" fill="#FFC179"/><circle cx="567.3" cy="403.5" r="1.25" fill="#FFC179"/><circle cx="569.9" cy="401.2" r="1.25" fill="#FFC179"/><circle cx="572.6" cy="398.9" r="1.25" fill="#FFC179"/><circle cx="578.5" cy="397.6" r="1.25" fill="#FFC179"/><circle cx="581.1" cy="396.3" r="1.25" fill="#FFC179"/><circle cx="581.1" cy="402.9" r="1.25" fill="#FFC179"/><circle cx="566.0" cy="410.8" r="1.25" fill="#FFC179"/><circle cx="573.2" cy="414.7" r="1.25" fill="#FFC179"/><circle cx="577.8" cy="423.2" r="1.25" fill="#FFC179"/><circle cx="545.6" cy="425.9" r="1.25" fill="#FFC179"/><circle cx="560.1" cy="431.8" r="1.25" fill="#FFC179"/><circle cx="560.5" cy="433.8" r="1.25" fill="#FFC179"/><circle cx="540.0" cy="404.6" r="1.25" fill="#F6313E"/><circle cx="549.2" cy="402.5" r="1.25" fill="#F6313E"/><circle cx="556.8" cy="407.5" r="1.25" fill="#F6313E"/><circle cx="552.9" cy="409.8" r="1.25" fill="#F6313E"/><circle cx="546.6" cy="412.7" r="1.25" fill="#F6313E"/><circle cx="548.9" cy="415.4" r="1.25" fill="#F6313E"/><circle cx="548.9" cy="417.3" r="1.25" fill="#F6313E"/><circle cx="552.2" cy="416.0" r="1.25" fill="#F6313E"/><circle cx="553.5" cy="415.4" r="1.25" fill="#F6313E"/><circle cx="559.4" cy="412.7" r="1.25" fill="#F6313E"/><circle cx="563.4" cy="411.2" r="1.25" fill="#F6313E"/><circle cx="568.6" cy="405.9" r="1.25" fill="#F6313E"/><circle cx="573.2" cy="404.8" r="1.25" fill="#F6313E"/><circle cx="577.8" cy="406.4" r="1.25" fill="#F6313E"/><circle cx="578.5" cy="408.8" r="1.25" fill="#F6313E"/><circle cx="570.6" cy="410.1" r="1.25" fill="#F6313E"/><circle cx="573.2" cy="411.4" r="1.25" fill="#F6313E"/><circle cx="577.8" cy="412.7" r="1.25" fill="#F6313E"/><circle cx="580.5" cy="412.7" r="1.25" fill="#F6313E"/><circle cx="577.2" cy="414.7" r="1.25" fill="#F6313E"/><circle cx="558.1" cy="417.3" r="1.25" fill="#F6313E"/><circle cx="562.1" cy="416.0" r="1.25" fill="#F6313E"/><circle cx="564.0" cy="416.7" r="1.25" fill="#F6313E"/><circle cx="568.6" cy="416.7" r="1.25" fill="#F6313E"/><circle cx="571.9" cy="417.3" r="1.25" fill="#F6313E"/><circle cx="573.9" cy="417.3" r="1.25" fill="#F6313E"/><circle cx="571.3" cy="419.3" r="1.25" fill="#F6313E"/><circle cx="568.0" cy="421.3" r="1.25" fill="#F6313E"/><circle cx="560.1" cy="421.3" r="1.25" fill="#F6313E"/><circle cx="561.4" cy="422.6" r="1.25" fill="#F6313E"/><circle cx="554.8" cy="423.2" r="1.25" fill="#F6313E"/><circle cx="565.4" cy="424.6" r="1.25" fill="#F6313E"/><circle cx="567.3" cy="424.6" r="1.25" fill="#F6313E"/><circle cx="568.6" cy="425.2" r="1.25" fill="#F6313E"/><circle cx="562.7" cy="427.2" r="1.25" fill="#F6313E"/><circle cx="566.7" cy="426.9" r="1.25" fill="#F6313E"/><circle cx="574.9" cy="426.5" r="1.25" fill="#F6313E"/><circle cx="566.0" cy="432.4" r="1.25" fill="#F6313E"/><circle cx="584.4" cy="406.2" r="1.25" fill="#F6313E"/><circle cx="584.4" cy="417.3" r="1.25" fill="#F6313E"/><circle cx="547.6" cy="426.5" r="1.25" fill="#F6313E"/><circle cx="553.5" cy="372.7" r="1.25" fill="#46A040"/><circle cx="556.5" cy="384.9" r="1.25" fill="#46A040"/><circle cx="574.2" cy="388.4" r="1.25" fill="#46A040"/><circle cx="577.8" cy="391.1" r="1.25" fill="#46A040"/><circle cx="547.0" cy="399.9" r="1.25" fill="#46A040"/><circle cx="525.9" cy="405.9" r="1.25" fill="#46A040"/><circle cx="525.9" cy="410.8" r="1.25" fill="#46A040"/><circle cx="543.7" cy="420.4" r="1.25" fill="#46A040"/><circle cx="550.9" cy="426.9" r="1.25" fill="#46A040"/><circle cx="566.7" cy="420.6" r="1.25" fill="#46A040"/><circle cx="574.9" cy="420.4" r="1.25" fill="#46A040"/><circle cx="582.8" cy="423.5" r="1.25" fill="#46A040"/><circle cx="583.7" cy="421.3" r="1.25" fill="#46A040"/><circle cx="585.1" cy="405.5" r="1.25" fill="#46A040"/><circle cx="567.6" cy="378.8" r="1.25" fill="#98D9E9"/><circle cx="586.0" cy="415.1" r="1.25" fill="#98D9E9"/><circle cx="626.1" cy="374.0" r="1.25" fill="#00441B"/><circle cx="588.6" cy="375.9" r="1.25" fill="#00441B"/><circle cx="586.7" cy="377.9" r="1.25" fill="#00441B"/><circle cx="633.0" cy="384.1" r="1.25" fill="#00441B"/><circle cx="623.1" cy="383.2" r="1.25" fill="#00441B"/><circle cx="624.4" cy="386.5" r="1.25" fill="#00441B"/><circle cx="618.2" cy="389.1" r="1.25" fill="#00441B"/><circle cx="622.1" cy="397.6" r="1.25" fill="#00441B"/><circle cx="605.7" cy="394.3" r="1.25" fill="#00441B"/><circle cx="609.0" cy="398.9" r="1.25" fill="#00441B"/><circle cx="624.1" cy="409.1" r="1.25" fill="#00441B"/><circle cx="645.4" cy="407.7" r="1.25" fill="#00441B"/><circle cx="587.3" cy="389.3" r="1.25" fill="#00441B"/><circle cx="586.7" cy="375.9" r="1.25" fill="#FFA300"/><circle cx="606.0" cy="382.5" r="1.25" fill="#FFA300"/><circle cx="596.5" cy="385.4" r="1.25" fill="#FFA300"/><circle cx="601.1" cy="388.8" r="1.25" fill="#FFA300"/><circle cx="610.7" cy="388.8" r="1.25" fill="#FFA300"/><circle cx="597.8" cy="391.4" r="1.25" fill="#FFA300"/><circle cx="589.7" cy="392.8" r="1.25" fill="#FFA300"/><circle cx="601.5" cy="393.7" r="1.25" fill="#FFA300"/><circle cx="614.9" cy="395.0" r="1.25" fill="#FFA300"/><circle cx="602.8" cy="400.2" r="1.25" fill="#FFA300"/><circle cx="626.5" cy="411.7" r="1.25" fill="#FFA300"/><circle cx="627.0" cy="415.4" r="1.25" fill="#FFA300"/><circle cx="645.8" cy="410.1" r="1.25" fill="#FFA300"/><circle cx="659.8" cy="421.7" r="1.25" fill="#FFA300"/><circle cx="656.9" cy="423.9" r="1.25" fill="#FFA300"/><circle cx="638.8" cy="434.0" r="1.25" fill="#FFA300"/><circle cx="612.9" cy="375.3" r="1.25" fill="#FFC179"/><circle cx="591.9" cy="408.8" r="1.25" fill="#FFC179"/><circle cx="594.9" cy="408.8" r="1.25" fill="#FFC179"/><circle cx="633.0" cy="414.0" r="1.25" fill="#FFC179"/><circle cx="653.7" cy="444.3" r="1.25" fill="#FFC179"/><circle cx="616.0" cy="385.8" r="1.25" fill="#00AF99"/><circle cx="617.5" cy="390.4" r="1.25" fill="#00AF99"/><circle cx="616.9" cy="391.7" r="1.25" fill="#00AF99"/><circle cx="626.1" cy="386.5" r="1.25" fill="#00AF99"/><circle cx="627.4" cy="388.8" r="1.25" fill="#00AF99"/><circle cx="628.0" cy="393.0" r="1.25" fill="#00AF99"/><circle cx="629.4" cy="395.6" r="1.25" fill="#00AF99"/><circle cx="586.7" cy="421.3" r="1.25" fill="#00AF99"/><circle cx="640.9" cy="440.6" r="1.25" fill="#00AF99"/><circle cx="594.9" cy="372.7" r="1.25" fill="#46A040"/><circle cx="599.1" cy="386.5" r="1.25" fill="#46A040"/><circle cx="609.0" cy="393.7" r="1.25" fill="#46A040"/><circle cx="630.7" cy="396.7" r="1.25" fill="#46A040"/><circle cx="589.9" cy="414.0" r="1.25" fill="#46A040"/><circle cx="587.1" cy="417.3" r="1.25" fill="#46A040"/><circle cx="632.6" cy="415.6" r="1.25" fill="#46A040"/><circle cx="632.0" cy="426.1" r="1.25" fill="#46A040"/><circle cx="642.2" cy="416.4" r="1.25" fill="#F6313E"/><circle cx="634.0" cy="442.7" r="1.25" fill="#F6313E"/><circle cx="607.0" cy="398.0" r="1.25" fill="#98D9E9"/><circle cx="590.6" cy="406.4" r="1.25" fill="#98D9E9"/><circle cx="586.7" cy="415.1" r="1.25" fill="#98D9E9"/><circle cx="628.0" cy="412.7" r="1.25" fill="#98D9E9"/><circle cx="635.3" cy="425.9" r="1.25" fill="#98D9E9"/><circle cx="649.1" cy="413.8" r="1.25" fill="#98D9E9"/><circle cx="647.8" cy="418.0" r="1.25" fill="#98D9E9"/><circle cx="650.4" cy="417.7" r="1.25" fill="#98D9E9"/><circle cx="651.7" cy="419.3" r="1.25" fill="#98D9E9"/><circle cx="653.7" cy="418.6" r="1.25" fill="#98D9E9"/><circle cx="655.6" cy="418.2" r="1.25" fill="#98D9E9"/><circle cx="654.3" cy="420.6" r="1.25" fill="#98D9E9"/><circle cx="653.0" cy="422.6" r="1.25" fill="#98D9E9"/><circle cx="651.0" cy="421.9" r="1.25" fill="#98D9E9"/><circle cx="649.1" cy="421.3" r="1.25" fill="#98D9E9"/><circle cx="647.1" cy="419.3" r="1.25" fill="#98D9E9"/><circle cx="651.7" cy="423.9" r="1.25" fill="#98D9E9"/><circle cx="654.3" cy="424.6" r="1.25" fill="#98D9E9"/><circle cx="651.0" cy="425.9" r="1.25" fill="#98D9E9"/><circle cx="653.0" cy="427.2" r="1.25" fill="#98D9E9"/><circle cx="645.8" cy="425.9" r="1.25" fill="#98D9E9"/><circle cx="650.4" cy="427.8" r="1.25" fill="#98D9E9"/><circle cx="657.6" cy="429.2" r="1.25" fill="#98D9E9"/><circle cx="658.9" cy="428.5" r="1.25" fill="#98D9E9"/><circle cx="645.1" cy="431.8" r="1.25" fill="#98D9E9"/><circle cx="655.0" cy="432.4" r="1.25" fill="#98D9E9"/><circle cx="656.9" cy="433.1" r="1.25" fill="#98D9E9"/><circle cx="659.6" cy="433.8" r="1.25" fill="#98D9E9"/><circle cx="662.2" cy="433.8" r="1.25" fill="#98D9E9"/><circle cx="664.8" cy="432.4" r="1.25" fill="#98D9E9"/><circle cx="668.8" cy="432.7" r="1.25" fill="#98D9E9"/><circle cx="655.0" cy="435.7" r="1.25" fill="#98D9E9"/><circle cx="657.6" cy="436.4" r="1.25" fill="#98D9E9"/><circle cx="650.4" cy="434.4" r="1.25" fill="#98D9E9"/><circle cx="635.9" cy="434.8" r="1.25" fill="#98D9E9"/><circle cx="643.2" cy="437.0" r="1.25" fill="#98D9E9"/><circle cx="647.8" cy="441.6" r="1.25" fill="#98D9E9"/><circle cx="653.7" cy="444.9" r="1.25" fill="#98D9E9"/><line x1="544.2" y1="301.3" x2="664.9" y2="444" stroke="#333" stroke-width="1" stroke-dasharray="2.6,2.4"/><text x="657.20" y="393.70" font-size="9.1" text-anchor="middle">Desired</text><text x="656.80" y="402.50" font-size="9.1" text-anchor="middle">direction</text><rect x="154.1" y="509.7" width="175.70000000000002" height="153.7" fill="none" stroke="#8c8c8c" stroke-width="1"/><line x1="160.5" y1="663.4" x2="160.5" y2="667.0" stroke="#8c8c8c"/><text x="160.50" y="676.20" font-size="9.1" text-anchor="middle">0</text><line x1="190.8" y1="663.4" x2="190.8" y2="667.0" stroke="#8c8c8c"/><text x="190.80" y="676.20" font-size="9.1" text-anchor="middle">100</text><line x1="221.4" y1="663.4" x2="221.4" y2="667.0" stroke="#8c8c8c"/><text x="221.40" y="676.20" font-size="9.1" text-anchor="middle">200</text><line x1="252.1" y1="663.4" x2="252.1" y2="667.0" stroke="#8c8c8c"/><text x="252.10" y="676.20" font-size="9.1" text-anchor="middle">300</text><line x1="282.6" y1="663.4" x2="282.6" y2="667.0" stroke="#8c8c8c"/><text x="282.60" y="676.20" font-size="9.1" text-anchor="middle">400</text><line x1="313.7" y1="663.4" x2="313.7" y2="667.0" stroke="#8c8c8c"/><text x="313.70" y="676.20" font-size="9.1" text-anchor="middle">500</text><line x1="150.29999999999998" y1="533.1" x2="154.1" y2="533.1" stroke="#8c8c8c"/><text x="145.40" y="533.55" font-size="9.1" text-anchor="middle" transform="rotate(-90 145.40 533.55)">100</text><line x1="150.29999999999998" y1="555.3" x2="154.1" y2="555.3" stroke="#8c8c8c"/><text x="145.40" y="555.75" font-size="9.1" text-anchor="middle" transform="rotate(-90 145.40 555.75)">0</text><line x1="150.29999999999998" y1="578" x2="154.1" y2="578" stroke="#8c8c8c"/><line x1="150.29999999999998" y1="600.5" x2="154.1" y2="600.5" stroke="#8c8c8c"/><text x="145.40" y="600.95" font-size="9.1" text-anchor="middle" transform="rotate(-90 145.40 600.95)">−200</text><line x1="150.29999999999998" y1="622.7" x2="154.1" y2="622.7" stroke="#8c8c8c"/><line x1="150.29999999999998" y1="644.9" x2="154.1" y2="644.9" stroke="#8c8c8c"/><text x="145.40" y="645.35" font-size="9.1" text-anchor="middle" transform="rotate(-90 145.40 645.35)">−400</text><text x="241.95" y="503.80" font-size="11.5" text-anchor="middle">Learned second component</text><text x="242.20" y="689.80" font-size="10.2" text-anchor="middle">Cells</text><text x="0" y="0" font-size="10.4" transform="translate(133.8,590.3) rotate(-90)">H<tspan font-size="6.8" dy="1.1">2</tspan></text><line x1="159.9" y1="555.5" x2="183.3" y2="555.5" stroke="#00441B" stroke-width="2.3" stroke-linecap="round"/><line x1="183.3" y1="555.5" x2="202.8" y2="555.5" stroke="#46A040" stroke-width="2.3" stroke-linecap="round"/><line x1="202.8" y1="555.5" x2="229.6" y2="555.5" stroke="#00AF99" stroke-width="2.3" stroke-linecap="round"/><line x1="229.6" y1="555.5" x2="255.3" y2="555.5" stroke="#FFC179" stroke-width="2.3" stroke-linecap="round"/><line x1="270.6" y1="555.5" x2="290.8" y2="555.5" stroke="#FFA300" stroke-width="2.3" stroke-linecap="round"/><line x1="290.8" y1="555.5" x2="305.8" y2="555.5" stroke="#00441B" stroke-width="2.3" stroke-linecap="round"/><line x1="305.8" y1="555.5" x2="324.2" y2="555.5" stroke="#F6313E" stroke-width="2.3" stroke-linecap="round"/><circle cx="259.7" cy="555.8" r="1.25" fill="#98D9E9"/><circle cx="261" cy="555.8" r="1.25" fill="#98D9E9"/><circle cx="262.5" cy="555.8" r="1.25" fill="#98D9E9"/><circle cx="264" cy="555.8" r="1.25" fill="#98D9E9"/><circle cx="265.5" cy="555.8" r="1.25" fill="#98D9E9"/><circle cx="267" cy="555.8" r="1.25" fill="#98D9E9"/><circle cx="164.9" cy="547.8" r="1.25" fill="#00441B"/><circle cx="163.1" cy="553.1" r="1.25" fill="#00441B"/><circle cx="181.0" cy="553.6" r="1.25" fill="#00441B"/><circle cx="188.0" cy="551.9" r="1.25" fill="#46A040"/><circle cx="189.4" cy="553.1" r="1.25" fill="#46A040"/><circle cx="196.0" cy="552.2" r="1.25" fill="#46A040"/><circle cx="201.4" cy="562.4" r="1.25" fill="#46A040"/><circle cx="215.7" cy="553.4" r="1.25" fill="#00AF99"/><circle cx="225.9" cy="553.1" r="1.25" fill="#00AF99"/><circle cx="227.4" cy="553.1" r="1.25" fill="#00AF99"/><circle cx="242.3" cy="553.6" r="1.25" fill="#FFC179"/><circle cx="237.9" cy="569.1" r="1.25" fill="#FFC179"/><circle cx="309.3" cy="514.7" r="1.25" fill="#F6313E"/><circle cx="272.1" cy="538.5" r="1.25" fill="#FFA300"/><circle cx="278.7" cy="559.9" r="1.25" fill="#FFA300"/><circle cx="290.4" cy="561.8" r="1.25" fill="#FFA300"/><circle cx="278.2" cy="566.2" r="1.25" fill="#FFA300"/><circle cx="281.6" cy="574.2" r="1.25" fill="#FFA300"/><circle cx="277.7" cy="578.9" r="1.25" fill="#FFA300"/><circle cx="304.2" cy="550.9" r="1.25" fill="#00441B"/><circle cx="305.0" cy="552.3" r="1.25" fill="#00441B"/><circle cx="303.5" cy="549.7" r="1.25" fill="#00441B"/><circle cx="302.5" cy="553.0" r="1.25" fill="#00441B"/><circle cx="311.8" cy="553.1" r="1.25" fill="#F6313E"/><circle cx="267.1" cy="610.0" r="1.25" fill="#98D9E9"/><circle cx="269.8" cy="630.2" r="1.25" fill="#98D9E9"/><circle cx="218.2" cy="657.4" r="1.25" fill="#00AF99"/><circle cx="254.6" cy="561.8" r="1.25" fill="#98D9E9"/><circle cx="256.1" cy="561.1" r="1.25" fill="#98D9E9"/><circle cx="257.5" cy="560.4" r="1.25" fill="#98D9E9"/><circle cx="259.0" cy="561.1" r="1.25" fill="#98D9E9"/><circle cx="260.4" cy="561.8" r="1.25" fill="#98D9E9"/><circle cx="261.9" cy="561.1" r="1.25" fill="#98D9E9"/><circle cx="263.4" cy="560.4" r="1.25" fill="#98D9E9"/><circle cx="264.8" cy="561.1" r="1.25" fill="#98D9E9"/><circle cx="266.3" cy="560.4" r="1.25" fill="#98D9E9"/><circle cx="267.7" cy="561.1" r="1.25" fill="#98D9E9"/><circle cx="269.2" cy="561.8" r="1.25" fill="#98D9E9"/><circle cx="270.7" cy="562.6" r="1.25" fill="#98D9E9"/><circle cx="256.8" cy="563.3" r="1.25" fill="#98D9E9"/><circle cx="258.2" cy="562.6" r="1.25" fill="#98D9E9"/><circle cx="259.7" cy="564.0" r="1.25" fill="#98D9E9"/><circle cx="261.9" cy="563.3" r="1.25" fill="#98D9E9"/><circle cx="264.1" cy="564.0" r="1.25" fill="#98D9E9"/><circle cx="266.3" cy="563.3" r="1.25" fill="#98D9E9"/><circle cx="268.5" cy="564.0" r="1.25" fill="#98D9E9"/><circle cx="269.9" cy="563.3" r="1.25" fill="#98D9E9"/><circle cx="261.9" cy="565.5" r="1.25" fill="#98D9E9"/><circle cx="264.1" cy="565.5" r="1.25" fill="#98D9E9"/><circle cx="262.6" cy="564.7" r="1.25" fill="#98D9E9"/><circle cx="256.1" cy="569.9" r="1.25" fill="#98D9E9"/><circle cx="255.3" cy="571.3" r="1.25" fill="#98D9E9"/><circle cx="259.0" cy="568.4" r="1.25" fill="#98D9E9"/><circle cx="260.4" cy="569.1" r="1.25" fill="#98D9E9"/><circle cx="265.5" cy="569.9" r="1.25" fill="#98D9E9"/><circle cx="269.2" cy="567.7" r="1.25" fill="#98D9E9"/><circle cx="269.9" cy="569.1" r="1.25" fill="#98D9E9"/><circle cx="259.0" cy="574.2" r="1.25" fill="#98D9E9"/><circle cx="264.1" cy="574.2" r="1.25" fill="#98D9E9"/><circle cx="258.2" cy="577.2" r="1.25" fill="#98D9E9"/><circle cx="261.9" cy="577.2" r="1.25" fill="#98D9E9"/><circle cx="263.4" cy="576.4" r="1.25" fill="#98D9E9"/><circle cx="268.5" cy="576.4" r="1.25" fill="#98D9E9"/><circle cx="254.6" cy="577.9" r="1.25" fill="#98D9E9"/><circle cx="260.4" cy="556.0" r="1.25" fill="#98D9E9"/><circle cx="263.4" cy="556.0" r="1.25" fill="#98D9E9"/><circle cx="266.3" cy="556.0" r="1.25" fill="#98D9E9"/><circle cx="261.9" cy="557.4" r="1.25" fill="#98D9E9"/><circle cx="264.1" cy="558.2" r="1.25" fill="#98D9E9"/><circle cx="257.5" cy="561.8" r="1.25" fill="#98D9E9"/><circle cx="261.2" cy="559.6" r="1.25" fill="#98D9E9"/><circle cx="265.5" cy="558.9" r="1.25" fill="#98D9E9"/><circle cx="267.7" cy="562.6" r="1.25" fill="#98D9E9"/><circle cx="256.1" cy="559.6" r="1.25" fill="#98D9E9"/><rect x="384.3" y="509.7" width="175.99999999999994" height="153.7" fill="none" stroke="#8c8c8c" stroke-width="1"/><line x1="404" y1="663.4" x2="404" y2="667.0" stroke="#8c8c8c" stroke-width="1"/><text x="404.00" y="676.20" font-size="9.1" text-anchor="middle">−20</text><line x1="440.1" y1="663.4" x2="440.1" y2="667.0" stroke="#8c8c8c" stroke-width="1"/><text x="440.10" y="676.20" font-size="9.1" text-anchor="middle">−10</text><line x1="476.9" y1="663.4" x2="476.9" y2="667.0" stroke="#8c8c8c" stroke-width="1"/><text x="476.90" y="676.20" font-size="9.1" text-anchor="middle">0</text><line x1="513.3" y1="663.4" x2="513.3" y2="667.0" stroke="#8c8c8c" stroke-width="1"/><text x="513.30" y="676.20" font-size="9.1" text-anchor="middle">10</text><line x1="549.4" y1="663.4" x2="549.4" y2="667.0" stroke="#8c8c8c" stroke-width="1"/><text x="549.40" y="676.20" font-size="9.1" text-anchor="middle">20</text><line x1="380.5" y1="515.4" x2="384.3" y2="515.4" stroke="#8c8c8c" stroke-width="1"/><text x="375.20" y="515.85" font-size="9.1" text-anchor="middle" transform="rotate(-90 375.20 515.85)">30</text><line x1="380.5" y1="542.4" x2="384.3" y2="542.4" stroke="#8c8c8c" stroke-width="1"/><text x="375.20" y="542.85" font-size="9.1" text-anchor="middle" transform="rotate(-90 375.20 542.85)">20</text><line x1="380.5" y1="568.9" x2="384.3" y2="568.9" stroke="#8c8c8c" stroke-width="1"/><text x="375.20" y="569.35" font-size="9.1" text-anchor="middle" transform="rotate(-90 375.20 569.35)">10</text><line x1="380.5" y1="596.3" x2="384.3" y2="596.3" stroke="#8c8c8c" stroke-width="1"/><text x="375.20" y="596.75" font-size="9.1" text-anchor="middle" transform="rotate(-90 375.20 596.75)">0</text><line x1="380.5" y1="622.8" x2="384.3" y2="622.8" stroke="#8c8c8c" stroke-width="1"/><text x="375.20" y="623.25" font-size="9.1" text-anchor="middle" transform="rotate(-90 375.20 623.25)">−10</text><line x1="380.5" y1="649.4" x2="384.3" y2="649.4" stroke="#8c8c8c" stroke-width="1"/><text x="375.20" y="649.85" font-size="9.1" text-anchor="middle" transform="rotate(-90 375.20 649.85)">−20</text><text x="472.30" y="503.80" font-size="11.4" text-anchor="middle">RA3</text><text x="469.30" y="689.80" font-size="10.2" text-anchor="middle">t-SNE 1</text><text x="362.20" y="588.00" font-size="10.3" text-anchor="middle" transform="rotate(-90 362.20 588.00)">t-SNE 2</text><circle cx="452.3" cy="516.9" r="1.25" fill="#98D9E9"/><circle cx="454.3" cy="516.2" r="1.25" fill="#98D9E9"/><circle cx="456.3" cy="514.9" r="1.25" fill="#98D9E9"/><circle cx="458.9" cy="514.9" r="1.25" fill="#98D9E9"/><circle cx="459.5" cy="517.5" r="1.25" fill="#98D9E9"/><circle cx="457.6" cy="518.9" r="1.25" fill="#98D9E9"/><circle cx="455.6" cy="519.5" r="1.25" fill="#98D9E9"/><circle cx="453.6" cy="520.2" r="1.25" fill="#98D9E9"/><circle cx="451.7" cy="521.5" r="1.25" fill="#98D9E9"/><circle cx="453.0" cy="522.1" r="1.25" fill="#98D9E9"/><circle cx="454.9" cy="521.5" r="1.25" fill="#98D9E9"/><circle cx="456.9" cy="520.8" r="1.25" fill="#98D9E9"/><circle cx="458.2" cy="522.1" r="1.25" fill="#98D9E9"/><circle cx="459.5" cy="522.8" r="1.25" fill="#98D9E9"/><circle cx="461.5" cy="523.5" r="1.25" fill="#98D9E9"/><circle cx="462.8" cy="524.8" r="1.25" fill="#98D9E9"/><circle cx="464.1" cy="525.4" r="1.25" fill="#98D9E9"/><circle cx="462.2" cy="526.7" r="1.25" fill="#98D9E9"/><circle cx="460.2" cy="526.1" r="1.25" fill="#98D9E9"/><circle cx="458.2" cy="527.4" r="1.25" fill="#98D9E9"/><circle cx="459.5" cy="528.7" r="1.25" fill="#98D9E9"/><circle cx="461.5" cy="529.4" r="1.25" fill="#98D9E9"/><circle cx="463.5" cy="530.0" r="1.25" fill="#98D9E9"/><circle cx="464.8" cy="531.3" r="1.25" fill="#98D9E9"/><circle cx="462.8" cy="530.7" r="1.25" fill="#98D9E9"/><circle cx="460.9" cy="531.3" r="1.25" fill="#98D9E9"/><circle cx="464.1" cy="532.6" r="1.25" fill="#98D9E9"/><circle cx="454.3" cy="527.4" r="1.25" fill="#98D9E9"/><circle cx="452.3" cy="525.4" r="1.25" fill="#98D9E9"/><circle cx="456.9" cy="524.1" r="1.25" fill="#98D9E9"/><circle cx="454.9" cy="524.1" r="1.25" fill="#98D9E9"/><circle cx="467.4" cy="524.1" r="1.25" fill="#98D9E9"/><circle cx="466.1" cy="536.9" r="1.25" fill="#98D9E9"/><circle cx="455.6" cy="517.5" r="1.25" fill="#98D9E9"/><circle cx="457.6" cy="516.9" r="1.25" fill="#98D9E9"/><circle cx="453.6" cy="523.5" r="1.25" fill="#98D9E9"/><circle cx="451.7" cy="523.5" r="1.25" fill="#98D9E9"/><circle cx="456.3" cy="516.6" r="1.25" fill="#FFA300"/><circle cx="450.4" cy="525.8" r="1.25" fill="#FFA300"/><circle cx="451.0" cy="526.3" r="1.25" fill="#FFA300"/><circle cx="460.9" cy="524.5" r="1.25" fill="#FFA300"/><circle cx="463.9" cy="533.7" r="1.25" fill="#FFA300"/><circle cx="462.2" cy="516.9" r="1.25" fill="#00AF99"/><circle cx="444.7" cy="532.4" r="1.25" fill="#46A040"/><circle cx="414.5" cy="583.9" r="1.25" fill="#46A040"/><circle cx="446.4" cy="531.6" r="1.25" fill="#FFC179"/><circle cx="480.5" cy="558.7" r="1.25" fill="#FFA300"/><circle cx="482.5" cy="560.9" r="1.25" fill="#FFA300"/><circle cx="484.5" cy="558.9" r="1.25" fill="#FFA300"/><circle cx="486.4" cy="558.7" r="1.25" fill="#FFA300"/><circle cx="487.7" cy="559.6" r="1.25" fill="#FFA300"/><circle cx="483.1" cy="561.6" r="1.25" fill="#FFA300"/><circle cx="485.1" cy="562.2" r="1.25" fill="#FFA300"/><circle cx="486.4" cy="562.9" r="1.25" fill="#FFA300"/><circle cx="488.4" cy="561.6" r="1.25" fill="#FFA300"/><circle cx="484.5" cy="564.2" r="1.25" fill="#FFA300"/><circle cx="487.1" cy="564.8" r="1.25" fill="#FFA300"/><circle cx="489.7" cy="563.5" r="1.25" fill="#FFA300"/><circle cx="483.8" cy="566.2" r="1.25" fill="#FFA300"/><circle cx="488.4" cy="566.8" r="1.25" fill="#FFA300"/><circle cx="490.4" cy="567.5" r="1.25" fill="#FFA300"/><circle cx="492.3" cy="565.5" r="1.25" fill="#FFA300"/><circle cx="493.4" cy="560.9" r="1.25" fill="#FFA300"/><circle cx="494.3" cy="564.2" r="1.25" fill="#FFA300"/><circle cx="495.6" cy="566.8" r="1.25" fill="#FFA300"/><circle cx="495.0" cy="569.4" r="1.25" fill="#FFA300"/><circle cx="498.9" cy="562.6" r="1.25" fill="#FFA300"/><circle cx="498.6" cy="565.5" r="1.25" fill="#FFA300"/><circle cx="500.9" cy="566.2" r="1.25" fill="#FFA300"/><circle cx="503.5" cy="565.5" r="1.25" fill="#FFA300"/><circle cx="502.2" cy="568.1" r="1.25" fill="#FFA300"/><circle cx="500.5" cy="571.0" r="1.25" fill="#FFA300"/><circle cx="504.2" cy="571.8" r="1.25" fill="#FFA300"/><circle cx="506.8" cy="576.7" r="1.25" fill="#FFA300"/><circle cx="510.7" cy="571.8" r="1.25" fill="#FFA300"/><circle cx="512.0" cy="577.1" r="1.25" fill="#FFA300"/><circle cx="514.7" cy="577.3" r="1.25" fill="#FFA300"/><circle cx="515.3" cy="576.0" r="1.25" fill="#FFA300"/><circle cx="514.0" cy="564.2" r="1.25" fill="#FFA300"/><circle cx="514.7" cy="567.5" r="1.25" fill="#FFA300"/><circle cx="518.0" cy="565.8" r="1.25" fill="#FFA300"/><circle cx="519.9" cy="567.9" r="1.25" fill="#FFA300"/><circle cx="521.9" cy="567.5" r="1.25" fill="#FFA300"/><circle cx="523.2" cy="570.1" r="1.25" fill="#FFA300"/><circle cx="520.6" cy="569.4" r="1.25" fill="#FFA300"/><circle cx="524.5" cy="572.3" r="1.25" fill="#FFA300"/><circle cx="529.8" cy="570.1" r="1.25" fill="#FFA300"/><circle cx="534.4" cy="577.1" r="1.25" fill="#FFA300"/><circle cx="537.7" cy="568.1" r="1.25" fill="#FFA300"/><circle cx="547.5" cy="570.8" r="1.25" fill="#FFA300"/><circle cx="548.8" cy="573.4" r="1.25" fill="#FFA300"/><circle cx="553.4" cy="574.0" r="1.25" fill="#FFA300"/><circle cx="552.1" cy="576.7" r="1.25" fill="#FFA300"/><circle cx="554.1" cy="577.1" r="1.25" fill="#FFA300"/><circle cx="509.2" cy="586.3" r="1.25" fill="#FFA300"/><circle cx="480.5" cy="562.6" r="1.25" fill="#FFC179"/><circle cx="485.1" cy="570.8" r="1.25" fill="#FFC179"/><circle cx="493.0" cy="576.7" r="1.25" fill="#FFC179"/><circle cx="494.3" cy="578.0" r="1.25" fill="#FFC179"/><circle cx="495.6" cy="578.0" r="1.25" fill="#FFC179"/><circle cx="481.6" cy="564.2" r="1.25" fill="#00AF99"/><circle cx="496.9" cy="570.1" r="1.25" fill="#00AF99"/><circle cx="497.6" cy="572.7" r="1.25" fill="#00AF99"/><circle cx="500.2" cy="574.0" r="1.25" fill="#00AF99"/><circle cx="502.8" cy="573.4" r="1.25" fill="#00AF99"/><circle cx="504.2" cy="574.7" r="1.25" fill="#00AF99"/><circle cx="507.4" cy="571.4" r="1.25" fill="#00AF99"/><circle cx="509.4" cy="570.8" r="1.25" fill="#00AF99"/><circle cx="510.1" cy="574.0" r="1.25" fill="#00AF99"/><circle cx="509.4" cy="577.3" r="1.25" fill="#00AF99"/><circle cx="512.0" cy="579.9" r="1.25" fill="#00AF99"/><circle cx="514.0" cy="580.6" r="1.25" fill="#00AF99"/><circle cx="515.3" cy="573.4" r="1.25" fill="#00AF99"/><circle cx="517.3" cy="574.0" r="1.25" fill="#00AF99"/><circle cx="519.3" cy="574.7" r="1.25" fill="#00AF99"/><circle cx="521.2" cy="576.0" r="1.25" fill="#00AF99"/><circle cx="518.6" cy="577.3" r="1.25" fill="#00AF99"/><circle cx="516.6" cy="578.6" r="1.25" fill="#00AF99"/><circle cx="519.9" cy="578.6" r="1.25" fill="#00AF99"/><circle cx="521.9" cy="577.3" r="1.25" fill="#00AF99"/><circle cx="523.9" cy="579.9" r="1.25" fill="#00AF99"/><circle cx="525.2" cy="577.3" r="1.25" fill="#00AF99"/><circle cx="527.2" cy="576.7" r="1.25" fill="#00AF99"/><circle cx="525.8" cy="574.7" r="1.25" fill="#00AF99"/><circle cx="527.8" cy="572.1" r="1.25" fill="#00AF99"/><circle cx="531.1" cy="579.3" r="1.25" fill="#00AF99"/><circle cx="533.1" cy="578.6" r="1.25" fill="#00AF99"/><circle cx="535.0" cy="574.0" r="1.25" fill="#00AF99"/><circle cx="536.4" cy="576.0" r="1.25" fill="#00AF99"/><circle cx="538.3" cy="573.4" r="1.25" fill="#00AF99"/><circle cx="539.6" cy="572.1" r="1.25" fill="#00AF99"/><circle cx="541.6" cy="572.7" r="1.25" fill="#00AF99"/><circle cx="543.6" cy="571.8" r="1.25" fill="#00AF99"/><circle cx="545.5" cy="570.8" r="1.25" fill="#00AF99"/><circle cx="537.0" cy="568.1" r="1.25" fill="#00AF99"/><circle cx="540.9" cy="577.3" r="1.25" fill="#00AF99"/><circle cx="542.9" cy="576.0" r="1.25" fill="#00AF99"/><circle cx="545.5" cy="577.3" r="1.25" fill="#00AF99"/><circle cx="547.5" cy="577.3" r="1.25" fill="#00AF99"/><circle cx="548.8" cy="576.0" r="1.25" fill="#00AF99"/><circle cx="550.8" cy="575.4" r="1.25" fill="#00AF99"/><circle cx="547.5" cy="580.6" r="1.25" fill="#00AF99"/><circle cx="549.5" cy="581.3" r="1.25" fill="#00AF99"/><circle cx="543.6" cy="581.9" r="1.25" fill="#00AF99"/><circle cx="540.9" cy="582.6" r="1.25" fill="#00AF99"/><circle cx="538.3" cy="581.5" r="1.25" fill="#00AF99"/><circle cx="536.4" cy="582.6" r="1.25" fill="#00AF99"/><circle cx="533.1" cy="583.2" r="1.25" fill="#00AF99"/><circle cx="531.8" cy="585.2" r="1.25" fill="#00AF99"/><circle cx="529.1" cy="585.2" r="1.25" fill="#00AF99"/><circle cx="517.3" cy="582.6" r="1.25" fill="#00AF99"/><circle cx="519.3" cy="584.5" r="1.25" fill="#00AF99"/><circle cx="520.6" cy="585.2" r="1.25" fill="#00AF99"/><circle cx="514.7" cy="583.2" r="1.25" fill="#00AF99"/><circle cx="512.7" cy="581.9" r="1.25" fill="#00AF99"/><circle cx="519.9" cy="582.3" r="1.25" fill="#00AF99"/><circle cx="517.3" cy="580.6" r="1.25" fill="#00AF99"/><circle cx="522.6" cy="582.6" r="1.25" fill="#00AF99"/><circle cx="492.3" cy="562.9" r="1.25" fill="#00AF99"/><circle cx="499.6" cy="568.8" r="1.25" fill="#98D9E9"/><circle cx="519.9" cy="565.8" r="1.25" fill="#98D9E9"/><circle cx="529.1" cy="576.0" r="1.25" fill="#98D9E9"/><circle cx="532.0" cy="588.1" r="1.25" fill="#00441B"/><circle cx="391.2" cy="593.5" r="1.25" fill="#F6313E"/><circle cx="392.5" cy="592.2" r="1.25" fill="#F6313E"/><circle cx="394.5" cy="595.5" r="1.25" fill="#F6313E"/><circle cx="395.8" cy="593.5" r="1.25" fill="#F6313E"/><circle cx="396.5" cy="597.5" r="1.25" fill="#F6313E"/><circle cx="397.8" cy="594.9" r="1.25" fill="#F6313E"/><circle cx="399.1" cy="592.2" r="1.25" fill="#F6313E"/><circle cx="399.8" cy="596.2" r="1.25" fill="#F6313E"/><circle cx="401.1" cy="596.8" r="1.25" fill="#F6313E"/><circle cx="397.1" cy="590.9" r="1.25" fill="#F6313E"/><circle cx="401.1" cy="587.6" r="1.25" fill="#F6313E"/><circle cx="403.1" cy="588.9" r="1.25" fill="#F6313E"/><circle cx="405.0" cy="587.0" r="1.25" fill="#F6313E"/><circle cx="406.3" cy="589.6" r="1.25" fill="#F6313E"/><circle cx="407.6" cy="587.6" r="1.25" fill="#F6313E"/><circle cx="409.6" cy="586.3" r="1.25" fill="#F6313E"/><circle cx="408.3" cy="590.9" r="1.25" fill="#F6313E"/><circle cx="410.3" cy="590.3" r="1.25" fill="#F6313E"/><circle cx="411.6" cy="588.3" r="1.25" fill="#F6313E"/><circle cx="413.6" cy="587.6" r="1.25" fill="#F6313E"/><circle cx="415.5" cy="587.0" r="1.25" fill="#F6313E"/><circle cx="416.8" cy="588.9" r="1.25" fill="#F6313E"/><circle cx="414.9" cy="590.9" r="1.25" fill="#F6313E"/><circle cx="412.2" cy="592.2" r="1.25" fill="#F6313E"/><circle cx="410.3" cy="592.9" r="1.25" fill="#F6313E"/><circle cx="407.6" cy="593.5" r="1.25" fill="#F6313E"/><circle cx="405.7" cy="594.9" r="1.25" fill="#F6313E"/><circle cx="403.7" cy="592.9" r="1.25" fill="#F6313E"/><circle cx="402.4" cy="591.6" r="1.25" fill="#F6313E"/><circle cx="409.0" cy="595.5" r="1.25" fill="#F6313E"/><circle cx="411.6" cy="596.2" r="1.25" fill="#F6313E"/><circle cx="414.2" cy="594.2" r="1.25" fill="#F6313E"/><circle cx="416.8" cy="592.9" r="1.25" fill="#F6313E"/><circle cx="418.8" cy="592.2" r="1.25" fill="#F6313E"/><circle cx="420.8" cy="592.9" r="1.25" fill="#F6313E"/><circle cx="422.1" cy="591.6" r="1.25" fill="#F6313E"/><circle cx="419.5" cy="594.9" r="1.25" fill="#F6313E"/><circle cx="415.5" cy="597.5" r="1.25" fill="#F6313E"/><circle cx="417.5" cy="598.1" r="1.25" fill="#F6313E"/><circle cx="413.6" cy="596.8" r="1.25" fill="#F6313E"/><circle cx="403.7" cy="598.8" r="1.25" fill="#F6313E"/><circle cx="424.7" cy="589.6" r="1.25" fill="#F6313E"/><circle cx="427.4" cy="594.9" r="1.25" fill="#F6313E"/><circle cx="405.0" cy="585.0" r="1.25" fill="#F6313E"/><circle cx="407.0" cy="585.7" r="1.25" fill="#F6313E"/><circle cx="414.2" cy="585.7" r="1.25" fill="#46A040"/><circle cx="417.5" cy="592.9" r="1.25" fill="#46A040"/><circle cx="422.8" cy="608.0" r="1.25" fill="#46A040"/><circle cx="436.6" cy="605.4" r="1.25" fill="#46A040"/><circle cx="453.9" cy="609.7" r="1.25" fill="#46A040"/><circle cx="444.7" cy="617.2" r="1.25" fill="#46A040"/><circle cx="445.1" cy="611.9" r="1.25" fill="#46A040"/><circle cx="452.3" cy="619.8" r="1.25" fill="#46A040"/><circle cx="454.9" cy="622.4" r="1.25" fill="#46A040"/><circle cx="459.5" cy="626.0" r="1.25" fill="#46A040"/><circle cx="463.5" cy="630.3" r="1.25" fill="#46A040"/><circle cx="461.5" cy="629.0" r="1.25" fill="#46A040"/><circle cx="464.1" cy="633.6" r="1.25" fill="#46A040"/><circle cx="460.2" cy="635.6" r="1.25" fill="#46A040"/><circle cx="462.8" cy="636.9" r="1.25" fill="#46A040"/><circle cx="468.1" cy="613.2" r="1.25" fill="#46A040"/><circle cx="462.8" cy="615.5" r="1.25" fill="#46A040"/><circle cx="472.0" cy="644.8" r="1.25" fill="#46A040"/><circle cx="473.3" cy="651.4" r="1.25" fill="#46A040"/><circle cx="393.9" cy="590.3" r="1.25" fill="#FFC179"/><circle cx="403.7" cy="599.7" r="1.25" fill="#FFC179"/><circle cx="421.4" cy="587.6" r="1.25" fill="#FFC179"/><circle cx="427.4" cy="588.7" r="1.25" fill="#FFC179"/><circle cx="428.7" cy="598.1" r="1.25" fill="#FFC179"/><circle cx="428.0" cy="601.4" r="1.25" fill="#FFC179"/><circle cx="426.0" cy="602.1" r="1.25" fill="#FFC179"/><circle cx="424.1" cy="603.4" r="1.25" fill="#FFC179"/><circle cx="417.5" cy="604.7" r="1.25" fill="#FFC179"/><circle cx="419.5" cy="605.4" r="1.25" fill="#FFC179"/><circle cx="420.8" cy="606.7" r="1.25" fill="#FFC179"/><circle cx="421.8" cy="609.7" r="1.25" fill="#FFC179"/><circle cx="423.4" cy="608.0" r="1.25" fill="#FFC179"/><circle cx="439.2" cy="604.4" r="1.25" fill="#FFC179"/><circle cx="445.1" cy="602.7" r="1.25" fill="#FFC179"/><circle cx="447.7" cy="602.7" r="1.25" fill="#FFC179"/><circle cx="445.8" cy="605.4" r="1.25" fill="#FFC179"/><circle cx="447.1" cy="606.0" r="1.25" fill="#FFC179"/><circle cx="449.0" cy="605.4" r="1.25" fill="#FFC179"/><circle cx="450.4" cy="604.1" r="1.25" fill="#FFC179"/><circle cx="451.7" cy="606.7" r="1.25" fill="#FFC179"/><circle cx="449.7" cy="608.0" r="1.25" fill="#FFC179"/><circle cx="441.8" cy="608.6" r="1.25" fill="#FFC179"/><circle cx="443.8" cy="610.0" r="1.25" fill="#FFC179"/><circle cx="445.1" cy="611.3" r="1.25" fill="#FFC179"/><circle cx="447.1" cy="609.3" r="1.25" fill="#FFC179"/><circle cx="447.7" cy="611.3" r="1.25" fill="#FFC179"/><circle cx="437.9" cy="611.0" r="1.25" fill="#FFC179"/><circle cx="439.8" cy="612.6" r="1.25" fill="#FFC179"/><circle cx="439.2" cy="615.9" r="1.25" fill="#FFC179"/><circle cx="454.9" cy="605.4" r="1.25" fill="#FFC179"/><circle cx="456.9" cy="606.0" r="1.25" fill="#FFC179"/><circle cx="458.2" cy="604.7" r="1.25" fill="#FFC179"/><circle cx="460.2" cy="606.7" r="1.25" fill="#FFC179"/><circle cx="457.6" cy="609.3" r="1.25" fill="#FFC179"/><circle cx="461.5" cy="608.6" r="1.25" fill="#FFC179"/><circle cx="462.8" cy="608.6" r="1.25" fill="#FFC179"/><circle cx="466.5" cy="605.0" r="1.25" fill="#FFC179"/><circle cx="466.8" cy="609.3" r="1.25" fill="#FFC179"/><circle cx="464.8" cy="612.6" r="1.25" fill="#FFC179"/><circle cx="464.1" cy="615.2" r="1.25" fill="#FFC179"/><circle cx="468.7" cy="611.9" r="1.25" fill="#FFC179"/><circle cx="454.9" cy="607.3" r="1.25" fill="#FFC179"/><circle cx="461.5" cy="626.8" r="1.25" fill="#FFC179"/><circle cx="473.3" cy="628.4" r="1.25" fill="#FFC179"/><circle cx="440.8" cy="615.9" r="1.25" fill="#00441B"/><circle cx="456.0" cy="620.2" r="1.25" fill="#00441B"/><circle cx="462.6" cy="628.1" r="1.25" fill="#00441B"/><circle cx="466.1" cy="627.7" r="1.25" fill="#00441B"/><circle cx="468.1" cy="631.6" r="1.25" fill="#00441B"/><circle cx="469.4" cy="629.0" r="1.25" fill="#00441B"/><circle cx="471.4" cy="630.3" r="1.25" fill="#00441B"/><circle cx="473.3" cy="631.0" r="1.25" fill="#00441B"/><circle cx="465.5" cy="636.2" r="1.25" fill="#00441B"/><circle cx="467.4" cy="636.9" r="1.25" fill="#00441B"/><circle cx="469.4" cy="609.3" r="1.25" fill="#00441B"/><circle cx="472.7" cy="614.6" r="1.25" fill="#00441B"/><circle cx="470.7" cy="650.0" r="1.25" fill="#00441B"/><circle cx="471.4" cy="651.4" r="1.25" fill="#00441B"/><circle cx="478.1" cy="612.3" r="1.25" fill="#FFC179"/><circle cx="483.8" cy="610.0" r="1.25" fill="#FFC179"/><circle cx="484.7" cy="611.9" r="1.25" fill="#FFC179"/><circle cx="486.4" cy="608.6" r="1.25" fill="#FFC179"/><circle cx="487.1" cy="612.6" r="1.25" fill="#FFC179"/><circle cx="489.7" cy="612.3" r="1.25" fill="#FFC179"/><circle cx="483.1" cy="615.5" r="1.25" fill="#FFC179"/><circle cx="475.9" cy="619.4" r="1.25" fill="#FFC179"/><circle cx="475.3" cy="622.1" r="1.25" fill="#FFC179"/><circle cx="472.9" cy="628.4" r="1.25" fill="#FFC179"/><circle cx="472.6" cy="614.2" r="1.25" fill="#00441B"/><circle cx="487.7" cy="611.0" r="1.25" fill="#00441B"/><circle cx="489.7" cy="614.6" r="1.25" fill="#00441B"/><circle cx="497.9" cy="615.2" r="1.25" fill="#00441B"/><circle cx="498.6" cy="618.9" r="1.25" fill="#00441B"/><circle cx="501.5" cy="622.8" r="1.25" fill="#00441B"/><circle cx="476.3" cy="623.8" r="1.25" fill="#00441B"/><circle cx="475.5" cy="626.8" r="1.25" fill="#00441B"/><circle cx="478.9" cy="628.1" r="1.25" fill="#00441B"/><circle cx="482.9" cy="626.8" r="1.25" fill="#00441B"/><circle cx="481.8" cy="630.3" r="1.25" fill="#00441B"/><circle cx="480.5" cy="632.3" r="1.25" fill="#00441B"/><circle cx="473.3" cy="631.0" r="1.25" fill="#00441B"/><circle cx="470.7" cy="630.3" r="1.25" fill="#00441B"/><circle cx="473.9" cy="631.6" r="1.25" fill="#00441B"/><circle cx="493.6" cy="627.7" r="1.25" fill="#00441B"/><circle cx="496.3" cy="628.4" r="1.25" fill="#00441B"/><circle cx="498.2" cy="629.7" r="1.25" fill="#00441B"/><circle cx="500.9" cy="629.0" r="1.25" fill="#00441B"/><circle cx="503.5" cy="627.7" r="1.25" fill="#00441B"/><circle cx="504.8" cy="628.1" r="1.25" fill="#00441B"/><circle cx="495.0" cy="631.6" r="1.25" fill="#00441B"/><circle cx="497.6" cy="632.3" r="1.25" fill="#00441B"/><circle cx="499.6" cy="634.3" r="1.25" fill="#00441B"/><circle cx="502.2" cy="633.6" r="1.25" fill="#00441B"/><circle cx="504.2" cy="634.9" r="1.25" fill="#00441B"/><circle cx="506.1" cy="634.3" r="1.25" fill="#00441B"/><circle cx="508.1" cy="634.3" r="1.25" fill="#00441B"/><circle cx="510.7" cy="634.7" r="1.25" fill="#00441B"/><circle cx="509.4" cy="636.9" r="1.25" fill="#00441B"/><circle cx="504.2" cy="637.6" r="1.25" fill="#00441B"/><circle cx="502.2" cy="638.9" r="1.25" fill="#00441B"/><circle cx="500.9" cy="640.8" r="1.25" fill="#00441B"/><circle cx="498.2" cy="640.2" r="1.25" fill="#00441B"/><circle cx="496.3" cy="641.5" r="1.25" fill="#00441B"/><circle cx="494.3" cy="638.9" r="1.25" fill="#00441B"/><circle cx="492.3" cy="636.9" r="1.25" fill="#00441B"/><circle cx="489.7" cy="635.6" r="1.25" fill="#00441B"/><circle cx="488.4" cy="637.6" r="1.25" fill="#00441B"/><circle cx="490.4" cy="640.2" r="1.25" fill="#00441B"/><circle cx="491.0" cy="642.8" r="1.25" fill="#00441B"/><circle cx="498.2" cy="645.4" r="1.25" fill="#00441B"/><circle cx="502.8" cy="646.8" r="1.25" fill="#00441B"/><circle cx="505.5" cy="644.1" r="1.25" fill="#00441B"/><circle cx="508.1" cy="642.8" r="1.25" fill="#00441B"/><circle cx="510.7" cy="642.8" r="1.25" fill="#00441B"/><circle cx="512.7" cy="642.8" r="1.25" fill="#00441B"/><circle cx="508.8" cy="645.4" r="1.25" fill="#00441B"/><circle cx="506.8" cy="646.8" r="1.25" fill="#00441B"/><circle cx="511.4" cy="647.8" r="1.25" fill="#00441B"/><circle cx="485.8" cy="644.8" r="1.25" fill="#00441B"/><circle cx="487.1" cy="646.8" r="1.25" fill="#00441B"/><circle cx="484.5" cy="648.1" r="1.25" fill="#00441B"/><circle cx="483.1" cy="649.4" r="1.25" fill="#00441B"/><circle cx="481.2" cy="646.8" r="1.25" fill="#00441B"/><circle cx="482.5" cy="650.7" r="1.25" fill="#00441B"/><circle cx="480.5" cy="652.7" r="1.25" fill="#00441B"/><circle cx="478.5" cy="654.0" r="1.25" fill="#00441B"/><circle cx="476.6" cy="655.3" r="1.25" fill="#00441B"/><circle cx="475.9" cy="657.3" r="1.25" fill="#00441B"/><circle cx="479.2" cy="655.9" r="1.25" fill="#00441B"/><circle cx="481.2" cy="654.6" r="1.25" fill="#00441B"/><circle cx="484.5" cy="654.0" r="1.25" fill="#00441B"/><circle cx="487.7" cy="655.9" r="1.25" fill="#00441B"/><circle cx="493.6" cy="654.4" r="1.25" fill="#00441B"/><circle cx="470.0" cy="650.0" r="1.25" fill="#00441B"/><circle cx="472.0" cy="651.4" r="1.25" fill="#00441B"/><circle cx="477.2" cy="640.8" r="1.25" fill="#00441B"/><circle cx="475.9" cy="638.2" r="1.25" fill="#00441B"/><circle cx="477.9" cy="636.2" r="1.25" fill="#00441B"/><circle cx="483.1" cy="636.9" r="1.25" fill="#00441B"/><circle cx="498.2" cy="642.8" r="1.25" fill="#00441B"/><circle cx="500.9" cy="642.8" r="1.25" fill="#00441B"/><circle cx="473.9" cy="641.5" r="1.25" fill="#00441B"/><circle cx="532.0" cy="588.7" r="1.25" fill="#00441B"/><circle cx="470.3" cy="608.9" r="1.25" fill="#46A040"/><circle cx="475.9" cy="616.8" r="1.25" fill="#46A040"/><circle cx="491.7" cy="624.2" r="1.25" fill="#46A040"/><circle cx="501.5" cy="628.4" r="1.25" fill="#46A040"/><circle cx="510.1" cy="640.8" r="1.25" fill="#46A040"/><circle cx="485.8" cy="633.0" r="1.25" fill="#46A040"/><circle cx="482.5" cy="636.9" r="1.25" fill="#46A040"/><circle cx="475.3" cy="634.3" r="1.25" fill="#46A040"/><circle cx="479.2" cy="630.3" r="1.25" fill="#46A040"/><circle cx="478.5" cy="638.9" r="1.25" fill="#46A040"/><circle cx="472.4" cy="644.1" r="1.25" fill="#46A040"/><circle cx="473.9" cy="645.4" r="1.25" fill="#46A040"/><circle cx="478.5" cy="646.8" r="1.25" fill="#46A040"/><circle cx="475.3" cy="652.0" r="1.25" fill="#46A040"/><circle cx="477.9" cy="653.3" r="1.25" fill="#46A040"/><circle cx="481.8" cy="653.3" r="1.25" fill="#46A040"/><circle cx="475.9" cy="656.6" r="1.25" fill="#46A040"/><circle cx="491.0" cy="656.6" r="1.25" fill="#46A040"/><circle cx="488.4" cy="641.5" r="1.25" fill="#46A040"/><circle cx="484.5" cy="651.4" r="1.25" fill="#46A040"/><circle cx="508.8" cy="586.3" r="1.25" fill="#FFA300"/><circle cx="517.3" cy="585.0" r="1.25" fill="#00AF99"/><circle cx="519.9" cy="585.7" r="1.25" fill="#00AF99"/><circle cx="528.5" cy="585.7" r="1.25" fill="#00AF99"/><circle cx="533.1" cy="585.7" r="1.25" fill="#00AF99"/><circle cx="498.2" cy="612.3" r="1.25" fill="#00AF99"/><circle cx="496.9" cy="630.3" r="1.25" fill="#00441B"/><circle cx="500.2" cy="631.6" r="1.25" fill="#00441B"/><circle cx="502.8" cy="631.0" r="1.25" fill="#00441B"/><circle cx="505.5" cy="632.3" r="1.25" fill="#00441B"/><circle cx="507.4" cy="635.6" r="1.25" fill="#00441B"/><circle cx="509.4" cy="638.9" r="1.25" fill="#00441B"/><circle cx="506.8" cy="640.2" r="1.25" fill="#00441B"/><circle cx="504.8" cy="641.5" r="1.25" fill="#00441B"/><circle cx="502.8" cy="642.8" r="1.25" fill="#00441B"/><circle cx="500.2" cy="644.8" r="1.25" fill="#00441B"/><circle cx="496.9" cy="643.5" r="1.25" fill="#00441B"/><circle cx="493.0" cy="639.5" r="1.25" fill="#00441B"/><circle cx="491.0" cy="633.6" r="1.25" fill="#00441B"/><circle cx="495.6" cy="635.6" r="1.25" fill="#00441B"/><circle cx="499.6" cy="636.9" r="1.25" fill="#00441B"/><circle cx="509.4" cy="644.1" r="1.25" fill="#00441B"/><circle cx="512.0" cy="645.4" r="1.25" fill="#00441B"/><circle cx="483.8" cy="645.4" r="1.25" fill="#00441B"/><circle cx="481.8" cy="652.0" r="1.25" fill="#00441B"/><circle cx="479.9" cy="654.6" r="1.25" fill="#00441B"/><circle cx="477.9" cy="650.7" r="1.25" fill="#00441B"/><circle cx="485.8" cy="650.7" r="1.25" fill="#00441B"/><circle cx="503.5" cy="630.3" r="1.25" fill="#46A040"/><circle cx="495.0" cy="637.6" r="1.25" fill="#46A040"/><circle cx="470.1" cy="634.3" r="1.25" fill="#00441B"/><circle cx="472.0" cy="635.6" r="1.25" fill="#00441B"/><circle cx="468.1" cy="634.3" r="1.25" fill="#00441B"/><text x="59.20" y="527.50" font-size="11.3" text-anchor="middle">Donor BM0828</text><circle cx="35.9" cy="543.50" r="2.5" fill="#98D9E9"/><text x="47.90" y="547.60" font-size="11.3" text-anchor="start">CLP</text><circle cx="35.9" cy="559.67" r="2.5" fill="#FFC179"/><text x="47.90" y="563.77" font-size="11.3" text-anchor="start">CMP</text><circle cx="35.9" cy="575.84" r="2.5" fill="#FFA300"/><text x="47.90" y="579.94" font-size="11.3" text-anchor="start">GMP</text><circle cx="35.9" cy="592.01" r="2.5" fill="#00441B"/><text x="47.90" y="596.11" font-size="11.3" text-anchor="start">HSC</text><circle cx="35.9" cy="608.18" r="2.5" fill="#00AF99"/><text x="47.90" y="612.28" font-size="11.3" text-anchor="start">LMPP</text><circle cx="35.9" cy="624.35" r="2.5" fill="#F6313E"/><text x="47.90" y="628.45" font-size="11.3" text-anchor="start">MEP</text><circle cx="35.9" cy="640.52" r="2.5" fill="#46A040"/><text x="47.90" y="644.62" font-size="11.3" text-anchor="start">MPP</text></svg></body></html>
